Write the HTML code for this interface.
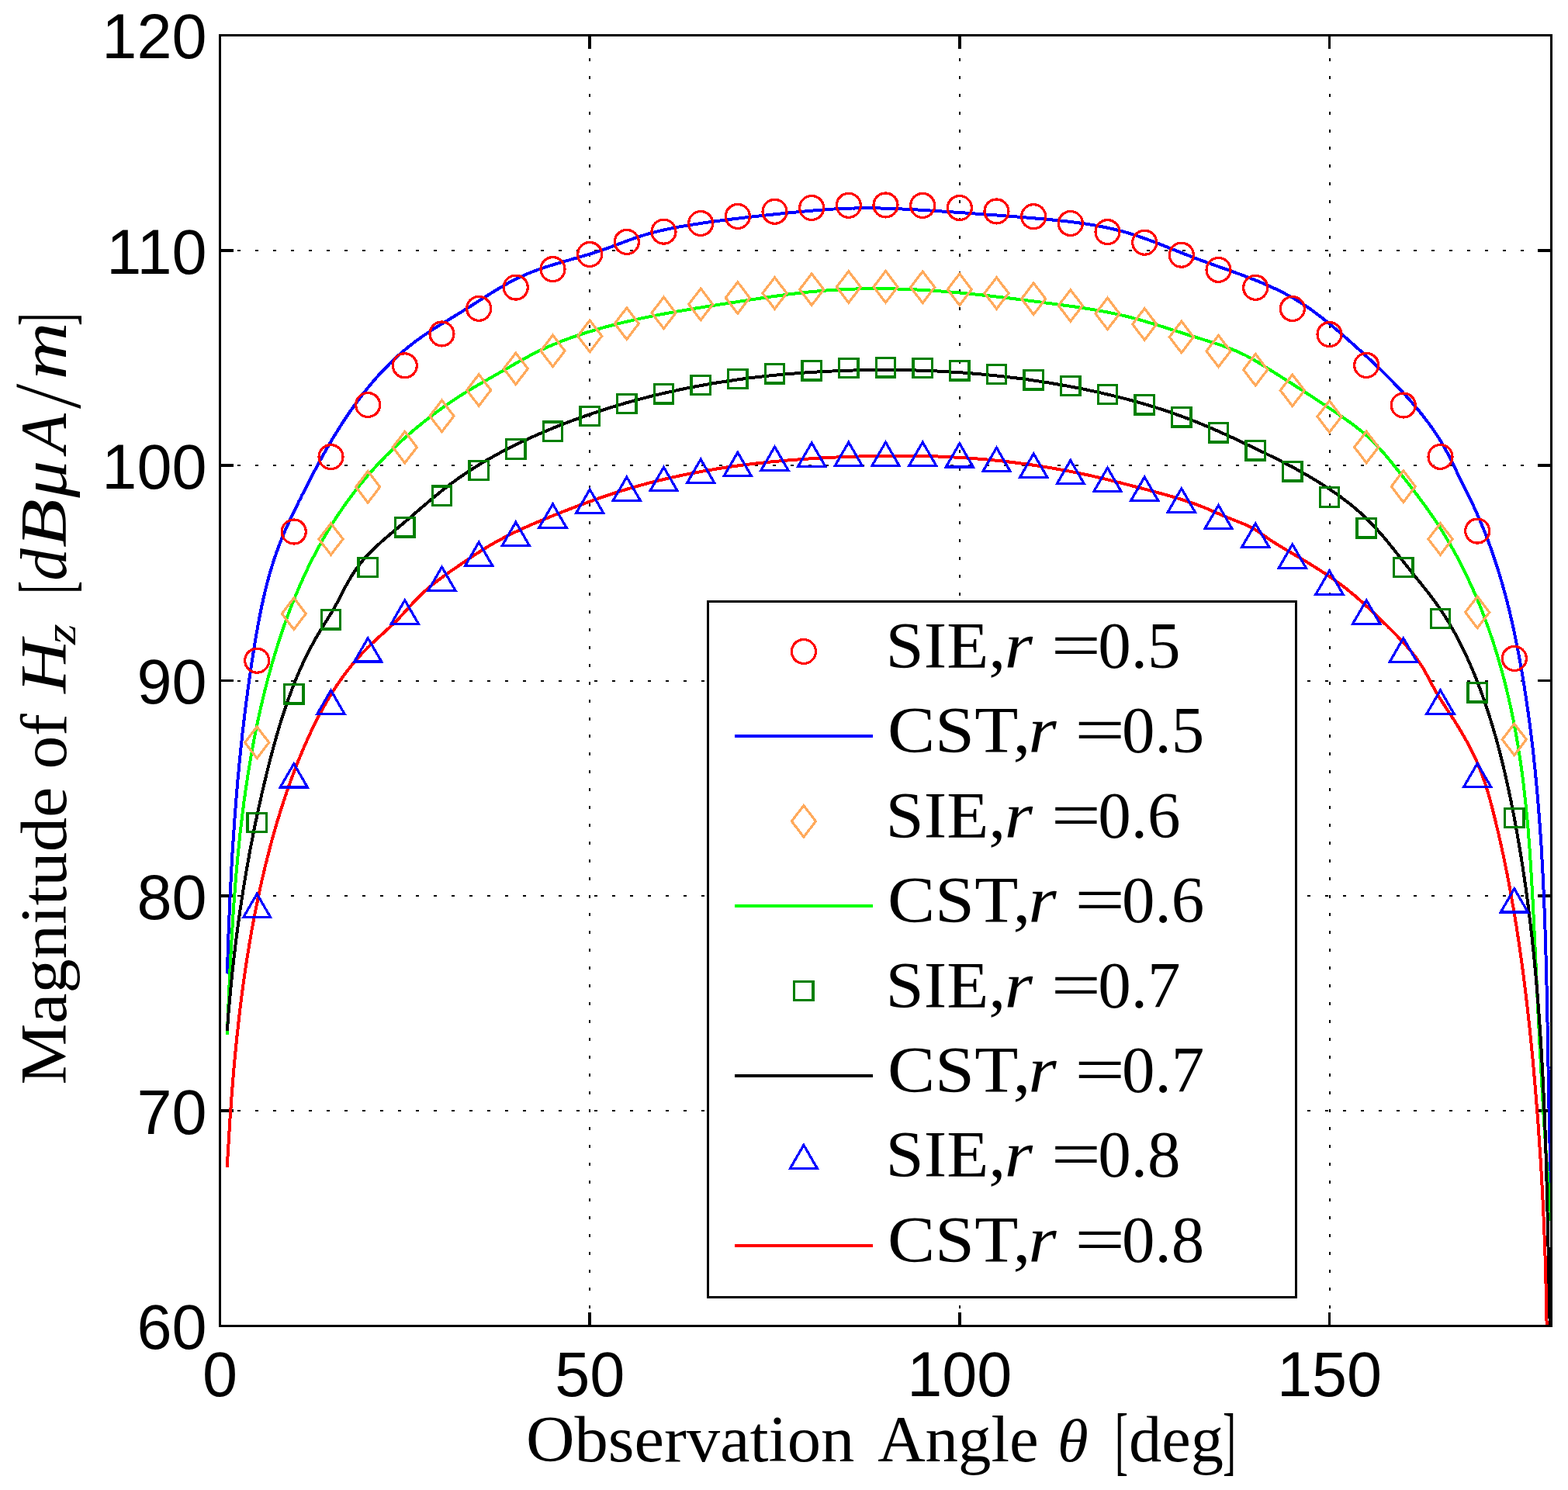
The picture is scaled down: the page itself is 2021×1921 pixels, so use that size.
<!DOCTYPE html>
<html><head><meta charset="utf-8"><title>Magnitude of Hz vs Observation Angle</title>
<style>html,body{margin:0;padding:0;background:#fff;overflow:hidden;}svg{display:block;}.tk{font-family:"Liberation Sans",Arial,Helvetica,sans-serif;font-size:81px;fill:#000;}.tx{font-family:"Liberation Serif","Times New Roman",serif;font-size:85px;fill:#000;}.it{font-style:italic;}</style></head><body>
<svg width="2021" height="1921" viewBox="0 0 2021 1921">
<rect x="0" y="0" width="2021" height="1921" fill="#ffffff"/>
<defs><clipPath id="ax"><rect x="283.5" y="45.5" width="1716.0" height="1664.0"/></clipPath></defs>
<g stroke="#000" stroke-width="2" stroke-dasharray="4 18.97" fill="none" shape-rendering="crispEdges">
<line x1="760.2" y1="1709.5" x2="760.2" y2="45.5"/>
<line x1="1236.8" y1="1709.5" x2="1236.8" y2="45.5"/>
<line x1="1713.5" y1="1709.5" x2="1713.5" y2="45.5"/>
<line x1="283.5" y1="1432.2" x2="1999.5" y2="1432.2"/>
<line x1="283.5" y1="1154.8" x2="1999.5" y2="1154.8"/>
<line x1="283.5" y1="877.5" x2="1999.5" y2="877.5"/>
<line x1="283.5" y1="600.2" x2="1999.5" y2="600.2"/>
<line x1="283.5" y1="322.8" x2="1999.5" y2="322.8"/>
</g>
<g stroke="#000" stroke-width="3.6" fill="none" shape-rendering="crispEdges">
<line x1="283.5" y1="1709.5" x2="283.5" y2="1692.0"/>
<line x1="283.5" y1="45.5" x2="283.5" y2="63.0"/>
<line x1="760.2" y1="1709.5" x2="760.2" y2="1692.0"/>
<line x1="760.2" y1="45.5" x2="760.2" y2="63.0"/>
<line x1="1236.8" y1="1709.5" x2="1236.8" y2="1692.0"/>
<line x1="1236.8" y1="45.5" x2="1236.8" y2="63.0"/>
<line x1="1713.5" y1="1709.5" x2="1713.5" y2="1692.0"/>
<line x1="1713.5" y1="45.5" x2="1713.5" y2="63.0"/>
<line x1="283.5" y1="1709.5" x2="301.0" y2="1709.5"/>
<line x1="1999.5" y1="1709.5" x2="1982.0" y2="1709.5"/>
<line x1="283.5" y1="1432.2" x2="301.0" y2="1432.2"/>
<line x1="1999.5" y1="1432.2" x2="1982.0" y2="1432.2"/>
<line x1="283.5" y1="1154.8" x2="301.0" y2="1154.8"/>
<line x1="1999.5" y1="1154.8" x2="1982.0" y2="1154.8"/>
<line x1="283.5" y1="877.5" x2="301.0" y2="877.5"/>
<line x1="1999.5" y1="877.5" x2="1982.0" y2="877.5"/>
<line x1="283.5" y1="600.2" x2="301.0" y2="600.2"/>
<line x1="1999.5" y1="600.2" x2="1982.0" y2="600.2"/>
<line x1="283.5" y1="322.8" x2="301.0" y2="322.8"/>
<line x1="1999.5" y1="322.8" x2="1982.0" y2="322.8"/>
<line x1="283.5" y1="45.5" x2="301.0" y2="45.5"/>
<line x1="1999.5" y1="45.5" x2="1982.0" y2="45.5"/>
</g>
<g clip-path="url(#ax)" shape-rendering="crispEdges">
<g fill="none" stroke-width="4.0" stroke-linejoin="round" stroke-linecap="butt">
<polyline stroke="#0000ff" points="292.8,1255.5 292.9,1252.5 293.0,1249.5 293.1,1246.5 293.2,1243.5 293.3,1240.5 293.4,1237.5 293.5,1234.5 293.6,1231.5 293.7,1228.5 293.8,1225.5 293.9,1222.5 294.0,1219.5 294.1,1216.5 294.2,1213.5 294.3,1210.5 294.4,1207.5 294.5,1204.5 294.6,1201.5 294.7,1198.5 294.9,1195.5 295.0,1192.5 295.1,1189.5 295.2,1186.5 295.3,1183.5 295.5,1180.5 295.6,1177.5 295.7,1174.5 295.8,1171.5 296.0,1168.5 296.1,1165.5 296.2,1162.6 296.4,1159.6 296.5,1156.6 296.7,1153.6 296.8,1150.6 297.0,1147.6 297.1,1144.6 297.2,1141.6 297.4,1138.6 297.6,1135.6 297.7,1132.6 297.9,1129.6 298.0,1126.6 298.2,1123.6 298.3,1120.6 298.5,1117.6 298.7,1114.6 298.8,1111.7 299.0,1108.7 299.2,1105.7 299.4,1102.7 299.5,1099.7 299.7,1096.7 299.9,1093.7 300.1,1090.7 300.3,1087.7 300.5,1084.7 300.7,1081.7 300.9,1078.8 301.1,1075.8 301.3,1072.8 301.5,1069.8 301.7,1066.8 301.9,1063.8 302.1,1060.8 302.3,1057.8 302.5,1054.8 302.7,1051.9 303.0,1048.9 303.2,1045.9 303.4,1042.9 303.7,1039.9 303.9,1036.9 304.1,1033.9 304.4,1030.9 304.6,1028.0 304.8,1025.0 305.1,1022.0 305.3,1019.0 305.6,1016.0 305.9,1013.0 306.1,1010.0 306.4,1007.1 306.6,1004.1 306.9,1001.1 307.2,998.1 307.5,995.1 307.7,992.1 308.0,989.2 308.3,986.2 308.6,983.2 308.9,980.2 309.2,977.2 309.5,974.3 309.8,971.3 310.1,968.3 310.4,965.3 310.7,962.3 311.0,959.4 311.3,956.4 311.7,953.4 312.0,950.4 312.3,947.4 312.6,944.5 313.0,941.5 313.3,938.5 313.7,935.5 314.0,932.5 314.4,929.6 314.7,926.6 315.1,923.6 315.4,920.6 315.8,917.7 316.2,914.7 316.5,911.7 316.9,908.7 317.3,905.8 317.7,902.8 318.1,899.8 318.5,896.8 318.9,893.9 319.3,890.9 319.7,887.9 320.1,884.9 320.5,882.0 320.9,879.0 321.3,876.0 321.7,873.1 322.2,870.1 322.6,867.1 323.0,864.1 323.5,861.2 323.9,858.2 324.4,855.2 324.8,852.3 325.3,849.3 325.8,846.3 326.2,843.4 326.7,840.4 327.2,837.4 327.7,834.5 328.1,831.5 328.6,828.5 329.1,825.6 329.6,822.6 330.1,819.6 330.6,816.7 331.2,813.7 331.7,810.7 332.2,807.8 332.8,804.8 333.3,801.9 333.9,798.9 334.4,796.0 335.0,793.0 335.6,790.1 336.2,787.1 336.8,784.2 337.4,781.2 338.1,778.3 338.7,775.4 339.3,772.5 340.0,769.5 340.7,766.6 341.4,763.7 342.1,760.8 342.8,757.9 343.5,755.0 344.3,752.1 345.0,749.2 345.8,746.3 346.6,743.4 347.4,740.5 348.2,737.7 349.1,734.8 349.9,731.9 350.8,729.1 351.7,726.2 352.6,723.4 353.5,720.6 354.5,717.7 355.5,714.9 356.4,712.1 357.5,709.3 358.5,706.5 359.5,703.7 360.6,700.9 361.7,698.1 362.8,695.3 363.9,692.6 365.1,689.8 366.3,687.1 367.4,684.3 368.6,681.6 369.9,678.9 371.1,676.1 372.3,673.4 373.6,670.7 374.9,668.0 376.1,665.3 377.4,662.6 378.7,659.9 380.0,657.2 381.3,654.5 382.7,651.8 384.0,649.1 385.3,646.4 386.7,643.8 388.0,641.1 389.3,638.4 390.7,635.8 392.0,633.1 393.4,630.4 394.7,627.8 396.1,625.1 397.5,622.5 398.8,619.8 400.2,617.2 401.6,614.5 402.9,611.9 404.3,609.2 405.7,606.6 407.1,604.0 408.5,601.3 409.9,598.7 411.4,596.1 412.8,593.4 414.2,590.8 415.7,588.2 417.1,585.6 418.6,583.0 420.1,580.4 421.6,577.8 423.1,575.2 424.6,572.6 426.1,570.0 427.6,567.4 429.2,564.8 430.7,562.3 432.3,559.7 433.9,557.1 435.5,554.6 437.1,552.0 438.7,549.5 440.3,547.0 441.9,544.4 443.6,541.9 445.2,539.4 446.9,536.9 448.6,534.4 450.3,531.9 452.0,529.4 453.7,527.0 455.5,524.5 457.2,522.1 459.0,519.6 460.8,517.2 462.6,514.8 464.4,512.4 466.2,510.0 468.0,507.7 469.9,505.3 471.8,503.0 473.6,500.6 475.5,498.3 477.4,496.0 479.4,493.7 481.3,491.4 483.3,489.2 485.2,486.9 487.2,484.7 489.2,482.5 491.3,480.3 493.3,478.1 495.4,476.0 497.4,473.8 499.5,471.7 501.6,469.6 503.7,467.5 505.9,465.4 508.0,463.4 510.2,461.3 512.4,459.3 514.6,457.3 516.8,455.4 519.1,453.4 521.3,451.5 523.6,449.6 525.9,447.7 528.2,445.8 530.6,444.0 532.9,442.2 535.3,440.4 537.7,438.6 540.1,436.9 542.5,435.1 545.0,433.4 547.4,431.7 549.9,430.1 552.4,428.4 554.9,426.8 557.4,425.1 559.9,423.5 562.4,421.9 565.0,420.3 567.5,418.7 570.1,417.2 572.6,415.6 575.2,414.0 577.8,412.5 580.3,410.9 582.9,409.3 585.5,407.8 588.0,406.2 590.6,404.7 593.2,403.1 595.7,401.5 598.3,399.9 600.9,398.3 603.4,396.7 606.0,395.1 608.5,393.5 611.0,391.9 613.6,390.3 616.1,388.7 618.6,387.0 621.2,385.4 623.7,383.8 626.2,382.2 628.8,380.6 631.3,379.0 633.9,377.4 636.4,375.9 639.0,374.3 641.5,372.8 644.1,371.2 646.7,369.7 649.3,368.3 651.9,366.8 654.5,365.3 657.1,363.9 659.7,362.5 662.4,361.2 665.0,359.8 667.7,358.5 670.4,357.2 673.1,356.0 675.8,354.8 678.5,353.6 681.3,352.4 684.0,351.3 686.8,350.2 689.6,349.2 692.4,348.1 695.2,347.1 698.0,346.1 700.9,345.2 703.7,344.2 706.6,343.3 709.4,342.4 712.3,341.5 715.2,340.6 718.0,339.8 720.9,338.9 723.8,338.1 726.7,337.2 729.6,336.4 732.5,335.6 735.4,334.7 738.3,333.9 741.2,333.1 744.1,332.3 747.0,331.4 749.9,330.6 752.8,329.8 755.7,328.9 758.6,328.0 761.4,327.2 764.3,326.3 767.2,325.4 770.0,324.5 772.9,323.5 775.7,322.6 778.5,321.6 781.3,320.6 784.1,319.6 786.9,318.5 789.7,317.5 792.5,316.5 795.3,315.4 798.1,314.4 800.9,313.3 803.7,312.3 806.4,311.2 809.2,310.2 812.0,309.2 814.8,308.2 817.6,307.2 820.4,306.2 823.2,305.3 826.1,304.4 828.9,303.5 831.7,302.6 834.6,301.8 837.5,301.0 840.3,300.2 843.2,299.5 846.1,298.7 849.0,298.0 851.9,297.3 854.8,296.7 857.7,296.0 860.6,295.4 863.6,294.8 866.5,294.2 869.4,293.6 872.4,293.1 875.3,292.5 878.3,292.0 881.2,291.5 884.2,291.0 887.2,290.5 890.1,290.0 893.1,289.5 896.1,289.1 899.0,288.6 902.0,288.2 905.0,287.7 907.9,287.3 910.9,286.8 913.9,286.4 916.9,286.0 919.8,285.6 922.8,285.2 925.8,284.8 928.8,284.4 931.7,284.0 934.7,283.6 937.7,283.2 940.7,282.9 943.6,282.5 946.6,282.1 949.6,281.8 952.6,281.4 955.5,281.0 958.5,280.7 961.5,280.3 964.5,280.0 967.4,279.7 970.4,279.3 973.4,279.0 976.4,278.7 979.4,278.3 982.3,278.0 985.3,277.7 988.3,277.4 991.3,277.1 994.2,276.8 997.2,276.4 1000.2,276.1 1003.2,275.8 1006.1,275.5 1009.1,275.2 1012.1,274.9 1015.1,274.6 1018.1,274.3 1021.0,274.0 1024.0,273.7 1027.0,273.4 1030.0,273.2 1032.9,272.9 1035.9,272.6 1038.9,272.3 1041.9,272.0 1044.8,271.8 1047.8,271.5 1050.8,271.3 1053.8,271.0 1056.7,270.8 1059.7,270.6 1062.7,270.3 1065.7,270.1 1068.7,269.9 1071.6,269.7 1074.6,269.5 1077.6,269.4 1080.6,269.2 1083.6,269.1 1086.6,268.9 1089.6,268.8 1092.5,268.7 1095.5,268.6 1098.5,268.5 1101.5,268.5 1104.5,268.4 1107.5,268.4 1110.5,268.3 1113.5,268.3 1116.5,268.3 1119.5,268.3 1122.5,268.3 1125.5,268.4 1128.5,268.4 1131.5,268.4 1134.5,268.5 1137.5,268.6 1140.5,268.7 1143.5,268.7 1146.5,268.8 1149.5,268.9 1152.5,269.0 1155.5,269.2 1158.5,269.3 1161.5,269.4 1164.5,269.6 1167.5,269.7 1170.5,269.9 1173.5,270.0 1176.5,270.2 1179.5,270.3 1182.5,270.5 1185.5,270.7 1188.5,270.9 1191.5,271.0 1194.5,271.2 1197.5,271.4 1200.5,271.6 1203.5,271.8 1206.4,272.0 1209.4,272.2 1212.4,272.4 1215.4,272.6 1218.4,272.8 1221.4,273.0 1224.4,273.2 1227.3,273.4 1230.3,273.6 1233.3,273.8 1236.3,274.0 1239.3,274.2 1242.2,274.4 1245.2,274.6 1248.2,274.9 1251.2,275.1 1254.1,275.3 1257.1,275.5 1260.1,275.7 1263.0,275.9 1266.0,276.1 1269.0,276.3 1272.0,276.6 1274.9,276.8 1277.9,277.0 1280.9,277.2 1283.9,277.4 1286.8,277.7 1289.8,277.9 1292.8,278.1 1295.8,278.4 1298.7,278.6 1301.7,278.8 1304.7,279.1 1307.7,279.3 1310.6,279.5 1313.6,279.8 1316.6,280.0 1319.6,280.3 1322.6,280.5 1325.6,280.8 1328.6,281.0 1331.6,281.3 1334.5,281.5 1337.5,281.8 1340.5,282.0 1343.5,282.3 1346.5,282.6 1349.5,282.8 1352.5,283.1 1355.5,283.4 1358.5,283.7 1361.6,284.0 1364.6,284.3 1367.6,284.6 1370.6,284.9 1373.6,285.3 1376.6,285.6 1379.5,286.0 1382.5,286.3 1385.5,286.7 1388.5,287.1 1391.5,287.5 1394.5,287.9 1397.5,288.3 1400.4,288.8 1403.4,289.3 1406.4,289.7 1409.3,290.2 1412.3,290.7 1415.3,291.3 1418.2,291.8 1421.1,292.4 1424.1,293.0 1427.0,293.6 1429.9,294.2 1432.8,294.9 1435.8,295.6 1438.7,296.3 1441.5,297.0 1444.4,297.7 1447.3,298.5 1450.2,299.3 1453.0,300.1 1455.9,301.0 1458.7,301.8 1461.6,302.7 1464.4,303.7 1467.2,304.6 1470.0,305.6 1472.8,306.5 1475.6,307.5 1478.4,308.6 1481.2,309.6 1484.0,310.6 1486.8,311.7 1489.6,312.7 1492.4,313.8 1495.2,314.9 1497.9,316.0 1500.7,317.1 1503.5,318.2 1506.3,319.3 1509.1,320.4 1511.8,321.5 1514.6,322.6 1517.4,323.8 1520.2,324.9 1523.0,326.0 1525.8,327.1 1528.6,328.2 1531.4,329.3 1534.2,330.4 1537.0,331.5 1539.8,332.5 1542.6,333.6 1545.5,334.7 1548.3,335.7 1551.1,336.7 1554.0,337.8 1556.8,338.8 1559.7,339.8 1562.5,340.8 1565.4,341.9 1568.2,342.9 1571.1,343.9 1573.9,344.9 1576.8,345.9 1579.6,346.9 1582.5,348.0 1585.3,349.0 1588.2,350.0 1591.0,351.0 1593.9,352.1 1596.7,353.1 1599.6,354.1 1602.4,355.2 1605.2,356.3 1608.0,357.3 1610.8,358.4 1613.6,359.5 1616.4,360.6 1619.2,361.7 1622.0,362.8 1624.8,364.0 1627.6,365.1 1630.3,366.3 1633.1,367.5 1635.8,368.7 1638.5,369.9 1641.2,371.2 1643.9,372.4 1646.6,373.7 1649.3,375.0 1652.0,376.4 1654.6,377.7 1657.2,379.1 1659.9,380.5 1662.5,381.9 1665.0,383.3 1667.6,384.8 1670.2,386.3 1672.7,387.9 1675.2,389.4 1677.7,391.0 1680.2,392.6 1682.7,394.3 1685.1,395.9 1687.6,397.6 1690.0,399.3 1692.4,401.1 1694.8,402.8 1697.2,404.6 1699.6,406.4 1701.9,408.2 1704.3,410.0 1706.6,411.9 1709.0,413.7 1711.3,415.6 1713.6,417.5 1715.9,419.4 1718.2,421.3 1720.5,423.3 1722.8,425.2 1725.1,427.1 1727.3,429.1 1729.6,431.1 1731.8,433.0 1734.1,435.0 1736.4,437.0 1738.6,439.0 1740.9,441.0 1743.1,443.0 1745.3,445.0 1747.6,447.0 1749.8,449.0 1752.1,451.0 1754.3,453.0 1756.5,455.1 1758.7,457.1 1760.9,459.1 1763.1,461.2 1765.3,463.2 1767.5,465.2 1769.7,467.3 1771.9,469.4 1774.1,471.4 1776.2,473.5 1778.4,475.6 1780.6,477.7 1782.7,479.8 1784.9,481.9 1787.0,484.0 1789.1,486.1 1791.2,488.2 1793.3,490.4 1795.4,492.5 1797.5,494.7 1799.6,496.8 1801.6,499.0 1803.7,501.2 1805.8,503.3 1807.8,505.5 1809.8,507.7 1811.8,509.9 1813.8,512.2 1815.8,514.4 1817.8,516.6 1819.8,518.9 1821.7,521.1 1823.7,523.4 1825.6,525.7 1827.5,528.0 1829.4,530.3 1831.3,532.6 1833.1,534.9 1835.0,537.3 1836.8,539.6 1838.6,542.0 1840.4,544.4 1842.2,546.7 1843.9,549.2 1845.7,551.6 1847.4,554.0 1849.0,556.5 1850.7,558.9 1852.3,561.4 1853.9,563.9 1855.5,566.5 1857.1,569.0 1858.6,571.6 1860.1,574.1 1861.6,576.7 1863.0,579.3 1864.5,582.0 1865.9,584.6 1867.3,587.3 1868.6,589.9 1870.0,592.6 1871.3,595.3 1872.7,598.0 1874.0,600.6 1875.3,603.3 1876.6,606.0 1877.9,608.8 1879.2,611.5 1880.5,614.2 1881.8,616.9 1883.2,619.6 1884.5,622.2 1885.8,624.9 1887.1,627.6 1888.5,630.3 1889.8,633.0 1891.1,635.7 1892.5,638.4 1893.8,641.1 1895.1,643.7 1896.4,646.4 1897.7,649.1 1899.0,651.9 1900.2,654.6 1901.5,657.3 1902.7,660.0 1903.9,662.8 1905.1,665.5 1906.3,668.2 1907.5,671.0 1908.7,673.7 1909.8,676.5 1911.0,679.3 1912.1,682.1 1913.2,684.8 1914.3,687.6 1915.4,690.4 1916.5,693.2 1917.6,696.0 1918.6,698.8 1919.6,701.6 1920.7,704.4 1921.7,707.3 1922.7,710.1 1923.7,712.9 1924.6,715.7 1925.6,718.6 1926.6,721.4 1927.5,724.3 1928.4,727.1 1929.4,730.0 1930.3,732.8 1931.2,735.7 1932.0,738.5 1932.9,741.4 1933.8,744.3 1934.6,747.1 1935.5,750.0 1936.3,752.9 1937.1,755.8 1937.9,758.7 1938.7,761.6 1939.5,764.4 1940.3,767.3 1941.1,770.2 1941.8,773.1 1942.6,776.0 1943.3,778.9 1944.0,781.9 1944.8,784.8 1945.5,787.7 1946.2,790.6 1946.9,793.5 1947.5,796.4 1948.2,799.4 1948.9,802.3 1949.5,805.2 1950.2,808.1 1950.8,811.1 1951.5,814.0 1952.1,816.9 1952.7,819.9 1953.3,822.8 1953.9,825.7 1954.5,828.7 1955.1,831.6 1955.7,834.6 1956.3,837.5 1956.8,840.5 1957.4,843.4 1958.0,846.4 1958.5,849.3 1959.0,852.3 1959.6,855.2 1960.1,858.2 1960.6,861.1 1961.1,864.1 1961.7,867.1 1962.2,870.0 1962.7,873.0 1963.1,875.9 1963.6,878.9 1964.1,881.9 1964.6,884.8 1965.1,887.8 1965.5,890.7 1966.0,893.7 1966.4,896.7 1966.9,899.6 1967.3,902.6 1967.8,905.6 1968.2,908.5 1968.6,911.5 1969.1,914.5 1969.5,917.4 1969.9,920.4 1970.3,923.4 1970.7,926.3 1971.1,929.3 1971.5,932.3 1971.9,935.2 1972.3,938.2 1972.7,941.2 1973.0,944.2 1973.4,947.1 1973.8,950.1 1974.2,953.1 1974.5,956.1 1974.9,959.0 1975.2,962.0 1975.6,965.0 1975.9,968.0 1976.2,970.9 1976.6,973.9 1976.9,976.9 1977.2,979.9 1977.5,982.8 1977.8,985.8 1978.2,988.8 1978.5,991.8 1978.8,994.8 1979.1,997.7 1979.4,1000.7 1979.6,1003.7 1979.9,1006.7 1980.2,1009.7 1980.5,1012.6 1980.8,1015.6 1981.0,1018.6 1981.3,1021.6 1981.6,1024.6 1981.8,1027.6 1982.1,1030.6 1982.3,1033.5 1982.6,1036.5 1982.8,1039.5 1983.1,1042.5 1983.3,1045.5 1983.5,1048.5 1983.8,1051.5 1984.0,1054.4 1984.2,1057.4 1984.4,1060.4 1984.7,1063.4 1984.9,1066.4 1985.1,1069.4 1985.3,1072.4 1985.5,1075.4 1985.7,1078.4 1985.9,1081.3 1986.1,1084.3 1986.3,1087.3 1986.5,1090.3 1986.7,1093.3 1986.8,1096.3 1987.0,1099.3 1987.2,1102.3 1987.4,1105.3 1987.5,1108.3 1987.7,1111.3 1987.9,1114.3 1988.0,1117.2 1988.2,1120.2 1988.4,1123.2 1988.5,1126.2 1988.7,1129.2 1988.8,1132.2 1989.0,1135.2 1989.1,1138.2 1989.2,1141.2 1989.4,1144.2 1989.5,1147.2 1989.7,1150.2 1989.8,1153.2 1989.9,1156.2 1990.0,1159.2 1990.2,1162.2 1990.3,1165.2 1990.4,1168.2 1990.5,1171.2 1990.7,1174.2 1990.8,1177.2 1990.9,1180.2 1991.0,1183.2 1991.1,1186.2 1991.2,1189.2 1991.3,1192.2 1991.4,1195.2 1991.5,1198.2 1991.6,1201.2 1991.7,1204.2 1991.8,1207.2 1991.9,1210.2 1992.0,1213.2 1992.1,1216.2 1992.2,1219.2 1992.3,1222.2 1992.4,1225.2 1992.4,1228.2 1992.5,1231.2 1992.6,1234.2 1992.7,1237.2 1992.8,1240.2 1992.8,1243.2 1992.9,1246.2 1993.0,1249.2 1993.1,1252.2 1993.1,1255.2 1993.2,1258.2 1993.3,1261.2 1993.4,1264.2 1993.4,1267.2 1993.5,1270.2 1993.6,1273.2 1993.6,1276.2 1993.7,1279.2 1993.8,1282.2 1993.8,1285.2 1993.9,1288.2 1993.9,1291.2 1994.0,1294.2 1994.1,1297.2 1994.1,1300.2 1994.2,1303.2 1994.2,1306.2 1994.3,1309.2 1994.3,1312.2 1994.4,1315.2 1994.5,1318.2 1994.5,1321.2 1994.6,1324.2 1994.6,1327.2 1994.7,1330.2 1994.7,1333.2 1994.8,1336.2 1994.8,1339.2 1994.9,1342.2 1994.9,1345.2 1995.0,1348.2 1995.0,1351.2 1995.1,1354.2 1995.1,1357.2 1995.2,1360.2 1995.3,1363.2 1995.3,1366.2 1995.4,1369.2 1995.4,1372.2 1995.5,1375.2 1995.5,1378.2 1995.6,1381.2 1995.6,1384.2 1995.7,1387.2 1995.7,1390.2 1995.8,1393.2 1995.8,1396.2 1995.9,1399.2 1995.9,1402.2 1996.0,1405.2 1996.1,1408.2 1996.1,1411.2 1996.2,1414.2 1996.2,1417.2 1996.3,1420.2 1996.3,1423.2 1996.4,1426.2 1996.5,1429.2 1996.5,1432.2 1996.6,1435.2 1996.6,1438.2 1996.7,1441.2 1996.8,1444.2 1996.8,1447.2 1996.9,1450.2 1997.0,1453.2 1997.0,1456.2 1997.1,1459.2 1997.2,1462.2 1997.2,1465.2 1997.3,1468.2 1997.4,1471.2 1997.5,1474.2 1997.5,1477.2 1997.6,1480.2 1997.7,1483.1 1997.8,1486.1 1997.9,1489.1 1997.9,1492.1 1998.0,1495.1 1998.1,1498.1 1998.2,1501.1 1998.3,1504.1 1998.4,1507.1 1998.5,1510.1 1998.6,1513.1 1998.7,1516.1 1998.8,1519.1 1998.9,1522.1 1999.0,1525.0 1999.1,1528.0 1999.2,1531.0 1999.3,1534.0 1999.4,1537.0 1999.5,1540.0"/>
<polyline stroke="#00ff00" points="292.8,1333.6 292.9,1330.6 293.1,1327.6 293.2,1324.6 293.3,1321.6 293.4,1318.6 293.6,1315.6 293.7,1312.6 293.8,1309.6 294.0,1306.6 294.1,1303.6 294.2,1300.6 294.3,1297.6 294.5,1294.6 294.6,1291.6 294.7,1288.6 294.9,1285.6 295.0,1282.6 295.1,1279.6 295.3,1276.6 295.4,1273.6 295.5,1270.7 295.7,1267.7 295.8,1264.7 296.0,1261.7 296.1,1258.7 296.2,1255.7 296.4,1252.7 296.5,1249.7 296.7,1246.7 296.8,1243.7 297.0,1240.7 297.1,1237.7 297.3,1234.7 297.4,1231.7 297.6,1228.7 297.8,1225.7 297.9,1222.7 298.1,1219.7 298.3,1216.7 298.4,1213.7 298.6,1210.7 298.8,1207.7 298.9,1204.7 299.1,1201.8 299.3,1198.8 299.5,1195.8 299.7,1192.8 299.8,1189.8 300.0,1186.8 300.2,1183.8 300.4,1180.8 300.6,1177.8 300.8,1174.8 301.0,1171.8 301.2,1168.8 301.4,1165.9 301.6,1162.9 301.9,1159.9 302.1,1156.9 302.3,1153.9 302.5,1150.9 302.7,1147.9 303.0,1144.9 303.2,1142.0 303.4,1139.0 303.7,1136.0 303.9,1133.0 304.2,1130.0 304.4,1127.0 304.7,1124.0 304.9,1121.1 305.2,1118.1 305.5,1115.1 305.7,1112.1 306.0,1109.1 306.3,1106.2 306.6,1103.2 306.9,1100.2 307.2,1097.2 307.5,1094.2 307.8,1091.3 308.1,1088.3 308.4,1085.3 308.7,1082.3 309.0,1079.4 309.3,1076.4 309.6,1073.4 310.0,1070.4 310.3,1067.5 310.7,1064.5 311.0,1061.5 311.4,1058.6 311.7,1055.6 312.1,1052.6 312.4,1049.6 312.8,1046.7 313.2,1043.7 313.6,1040.7 314.0,1037.8 314.3,1034.8 314.7,1031.8 315.1,1028.9 315.6,1025.9 316.0,1023.0 316.4,1020.0 316.8,1017.0 317.3,1014.1 317.7,1011.1 318.1,1008.2 318.6,1005.2 319.0,1002.2 319.5,999.3 320.0,996.3 320.4,993.4 320.9,990.4 321.4,987.5 321.9,984.5 322.4,981.6 322.9,978.6 323.4,975.7 323.9,972.7 324.5,969.8 325.0,966.8 325.5,963.9 326.1,960.9 326.6,958.0 327.2,955.1 327.7,952.1 328.3,949.2 328.9,946.2 329.5,943.3 330.1,940.4 330.7,937.4 331.3,934.5 331.9,931.6 332.5,928.6 333.1,925.7 333.8,922.8 334.4,919.8 335.1,916.9 335.7,914.0 336.4,911.0 337.1,908.1 337.8,905.2 338.5,902.3 339.2,899.3 339.9,896.4 340.6,893.5 341.3,890.6 342.0,887.7 342.8,884.8 343.5,881.8 344.3,878.9 345.0,876.0 345.8,873.1 346.6,870.2 347.4,867.3 348.2,864.4 349.0,861.5 349.8,858.6 350.6,855.7 351.5,852.8 352.3,849.9 353.2,847.0 354.0,844.2 354.9,841.3 355.8,838.4 356.7,835.5 357.6,832.6 358.5,829.8 359.4,826.9 360.3,824.1 361.3,821.2 362.2,818.3 363.2,815.5 364.1,812.6 365.1,809.8 366.1,807.0 367.1,804.1 368.1,801.3 369.1,798.5 370.2,795.6 371.2,792.8 372.3,790.0 373.3,787.2 374.4,784.4 375.5,781.6 376.6,778.8 377.7,776.0 378.8,773.2 379.9,770.5 381.1,767.7 382.2,764.9 383.4,762.2 384.6,759.4 385.7,756.7 386.9,753.9 388.1,751.2 389.4,748.5 390.6,745.7 391.8,743.0 393.1,740.3 394.4,737.6 395.6,734.9 396.9,732.2 398.2,729.5 399.6,726.8 400.9,724.1 402.2,721.5 403.6,718.8 405.0,716.2 406.3,713.5 407.7,710.9 409.1,708.2 410.6,705.6 412.0,703.0 413.4,700.4 414.9,697.8 416.4,695.2 417.8,692.6 419.3,690.0 420.9,687.5 422.4,684.9 423.9,682.4 425.5,679.8 427.0,677.3 428.6,674.8 430.2,672.2 431.8,669.7 433.4,667.2 435.1,664.7 436.7,662.2 438.4,659.8 440.1,657.3 441.7,654.9 443.5,652.4 445.2,650.0 446.9,647.5 448.7,645.1 450.4,642.7 452.2,640.3 454.0,637.9 455.8,635.6 457.6,633.2 459.5,630.8 461.3,628.5 463.2,626.1 465.1,623.8 467.0,621.5 468.9,619.2 470.8,616.9 472.8,614.6 474.7,612.3 476.7,610.1 478.7,607.8 480.7,605.6 482.7,603.4 484.7,601.1 486.8,598.9 488.8,596.7 490.9,594.6 493.0,592.4 495.0,590.2 497.1,588.1 499.3,585.9 501.4,583.8 503.5,581.7 505.7,579.6 507.9,577.5 510.0,575.4 512.2,573.4 514.4,571.3 516.6,569.3 518.9,567.2 521.1,565.2 523.3,563.2 525.6,561.2 527.9,559.2 530.1,557.3 532.4,555.3 534.7,553.4 537.0,551.4 539.4,549.5 541.7,547.6 544.0,545.7 546.4,543.8 548.7,542.0 551.1,540.1 553.5,538.3 555.9,536.4 558.2,534.6 560.6,532.8 563.1,531.0 565.5,529.3 567.9,527.5 570.3,525.8 572.8,524.0 575.2,522.3 577.7,520.6 580.2,518.9 582.6,517.2 585.1,515.6 587.6,513.9 590.1,512.3 592.6,510.7 595.1,509.1 597.7,507.5 600.2,505.9 602.7,504.3 605.3,502.8 607.8,501.3 610.3,499.7 612.9,498.2 615.5,496.7 618.0,495.2 620.6,493.8 623.2,492.3 625.7,490.8 628.3,489.4 630.9,487.9 633.5,486.4 636.1,485.0 638.6,483.5 641.2,482.0 643.8,480.6 646.4,479.1 649.0,477.6 651.5,476.1 654.1,474.7 656.7,473.2 659.3,471.7 661.8,470.2 664.4,468.7 667.0,467.2 669.6,465.7 672.2,464.3 674.8,462.8 677.4,461.4 680.1,460.0 682.7,458.6 685.3,457.2 688.0,455.8 690.7,454.5 693.3,453.1 696.0,451.8 698.8,450.6 701.5,449.3 704.2,448.1 706.9,446.9 709.7,445.7 712.5,444.5 715.2,443.4 718.0,442.2 720.8,441.1 723.6,440.0 726.4,438.9 729.2,437.9 732.0,436.9 734.9,435.8 737.7,434.8 740.5,433.8 743.4,432.9 746.2,431.9 749.1,431.0 751.9,430.0 754.8,429.1 757.7,428.2 760.5,427.4 763.4,426.5 766.3,425.6 769.1,424.8 772.0,424.0 774.9,423.1 777.8,422.3 780.7,421.5 783.6,420.8 786.5,420.0 789.4,419.2 792.3,418.5 795.2,417.7 798.1,417.0 801.0,416.3 803.9,415.6 806.8,414.9 809.7,414.2 812.6,413.6 815.5,412.9 818.4,412.2 821.4,411.6 824.3,410.9 827.2,410.3 830.1,409.7 833.1,409.1 836.0,408.5 838.9,407.9 841.8,407.3 844.8,406.7 847.7,406.2 850.6,405.6 853.6,405.0 856.5,404.5 859.5,403.9 862.4,403.4 865.3,402.9 868.3,402.3 871.2,401.8 874.2,401.3 877.1,400.8 880.1,400.3 883.0,399.8 886.0,399.3 888.9,398.8 891.9,398.3 894.8,397.8 897.8,397.3 900.8,396.8 903.7,396.4 906.7,395.9 909.6,395.4 912.6,394.9 915.6,394.5 918.5,394.0 921.5,393.6 924.4,393.1 927.4,392.6 930.4,392.2 933.3,391.7 936.3,391.3 939.2,390.8 942.2,390.4 945.2,389.9 948.1,389.5 951.1,389.0 954.1,388.5 957.0,388.1 960.0,387.6 963.0,387.2 965.9,386.7 968.9,386.3 971.8,385.8 974.8,385.4 977.8,384.9 980.7,384.5 983.7,384.0 986.7,383.6 989.6,383.2 992.6,382.7 995.6,382.3 998.5,381.9 1001.5,381.5 1004.5,381.1 1007.4,380.7 1010.4,380.3 1013.4,379.9 1016.4,379.5 1019.3,379.1 1022.3,378.8 1025.3,378.4 1028.2,378.0 1031.2,377.7 1034.2,377.4 1037.2,377.0 1040.1,376.7 1043.1,376.4 1046.1,376.1 1049.1,375.8 1052.0,375.6 1055.0,375.3 1058.0,375.0 1061.0,374.8 1064.0,374.6 1066.9,374.3 1069.9,374.1 1072.9,373.9 1075.9,373.7 1078.9,373.6 1081.9,373.4 1084.8,373.2 1087.8,373.1 1090.8,373.0 1093.8,372.8 1096.8,372.7 1099.8,372.6 1102.8,372.5 1105.7,372.4 1108.7,372.4 1111.7,372.3 1114.7,372.2 1117.7,372.2 1120.7,372.2 1123.7,372.1 1126.7,372.1 1129.6,372.1 1132.6,372.1 1135.6,372.1 1138.6,372.1 1141.6,372.2 1144.6,372.2 1147.6,372.3 1150.6,372.3 1153.6,372.4 1156.6,372.5 1159.5,372.6 1162.5,372.7 1165.5,372.8 1168.5,372.9 1171.5,373.0 1174.5,373.1 1177.5,373.3 1180.5,373.4 1183.4,373.6 1186.4,373.7 1189.4,373.9 1192.4,374.1 1195.4,374.3 1198.4,374.5 1201.4,374.7 1204.4,374.9 1207.4,375.1 1210.3,375.3 1213.3,375.5 1216.3,375.8 1219.3,376.0 1222.3,376.2 1225.3,376.5 1228.3,376.7 1231.2,377.0 1234.2,377.3 1237.2,377.5 1240.2,377.8 1243.2,378.1 1246.2,378.4 1249.2,378.7 1252.1,379.0 1255.1,379.3 1258.1,379.6 1261.1,379.9 1264.1,380.2 1267.1,380.6 1270.1,380.9 1273.0,381.2 1276.0,381.5 1279.0,381.9 1282.0,382.2 1285.0,382.6 1287.9,382.9 1290.9,383.3 1293.9,383.6 1296.9,384.0 1299.9,384.3 1302.8,384.7 1305.8,385.1 1308.8,385.4 1311.8,385.8 1314.8,386.2 1317.7,386.6 1320.7,386.9 1323.7,387.3 1326.7,387.7 1329.6,388.1 1332.6,388.5 1335.6,388.9 1338.6,389.2 1341.5,389.6 1344.5,390.0 1347.5,390.4 1350.5,390.8 1353.4,391.2 1356.4,391.6 1359.4,392.0 1362.4,392.4 1365.3,392.8 1368.3,393.2 1371.3,393.6 1374.2,394.0 1377.2,394.4 1380.2,394.8 1383.1,395.2 1386.1,395.6 1389.0,396.1 1392.0,396.5 1395.0,397.0 1397.9,397.4 1400.9,397.9 1403.8,398.3 1406.8,398.8 1409.7,399.3 1412.7,399.8 1415.6,400.3 1418.5,400.9 1421.5,401.4 1424.4,401.9 1427.3,402.5 1430.3,403.1 1433.2,403.7 1436.1,404.3 1439.0,404.9 1442.0,405.6 1444.9,406.2 1447.8,406.9 1450.7,407.6 1453.6,408.3 1456.5,409.0 1459.4,409.8 1462.3,410.6 1465.1,411.3 1468.0,412.1 1470.9,412.9 1473.8,413.8 1476.7,414.6 1479.5,415.5 1482.4,416.3 1485.3,417.2 1488.2,418.0 1491.0,418.9 1493.9,419.8 1496.8,420.7 1499.6,421.6 1502.5,422.5 1505.4,423.4 1508.2,424.3 1511.1,425.3 1513.9,426.2 1516.8,427.1 1519.7,428.0 1522.5,428.9 1525.4,429.8 1528.3,430.7 1531.1,431.7 1534.0,432.6 1536.9,433.5 1539.8,434.3 1542.6,435.2 1545.5,436.1 1548.4,437.0 1551.3,437.9 1554.1,438.8 1557.0,439.7 1559.9,440.6 1562.7,441.5 1565.6,442.4 1568.4,443.3 1571.3,444.3 1574.1,445.2 1576.9,446.2 1579.7,447.2 1582.5,448.3 1585.3,449.3 1588.1,450.4 1590.8,451.5 1593.6,452.7 1596.3,453.9 1599.0,455.1 1601.7,456.4 1604.4,457.7 1607.0,459.0 1609.7,460.4 1612.3,461.8 1614.9,463.3 1617.5,464.8 1620.1,466.3 1622.6,467.9 1625.2,469.5 1627.7,471.1 1630.3,472.6 1632.8,474.2 1635.3,475.8 1637.9,477.4 1640.4,479.0 1642.9,480.6 1645.5,482.2 1648.0,483.8 1650.5,485.4 1653.1,487.0 1655.6,488.6 1658.1,490.2 1660.7,491.8 1663.2,493.4 1665.7,495.0 1668.2,496.7 1670.7,498.3 1673.3,499.9 1675.8,501.5 1678.3,503.1 1680.8,504.8 1683.3,506.4 1685.8,508.0 1688.3,509.6 1690.9,511.3 1693.4,512.9 1695.9,514.6 1698.4,516.2 1700.9,517.9 1703.4,519.5 1705.9,521.2 1708.4,522.8 1710.9,524.5 1713.4,526.2 1715.9,527.9 1718.3,529.6 1720.8,531.2 1723.3,532.9 1725.8,534.6 1728.3,536.3 1730.8,538.1 1733.2,539.8 1735.7,541.5 1738.2,543.3 1740.6,545.0 1743.0,546.8 1745.4,548.6 1747.8,550.4 1750.2,552.3 1752.6,554.1 1754.9,556.0 1757.2,557.9 1759.5,559.9 1761.7,561.8 1763.9,563.8 1766.1,565.9 1768.3,567.9 1770.4,570.0 1772.5,572.1 1774.6,574.3 1776.6,576.5 1778.6,578.7 1780.6,580.9 1782.6,583.1 1784.5,585.4 1786.5,587.7 1788.4,590.0 1790.3,592.3 1792.2,594.6 1794.1,596.9 1796.0,599.2 1797.8,601.5 1799.7,603.9 1801.6,606.2 1803.4,608.5 1805.3,610.9 1807.1,613.2 1809.0,615.5 1810.8,617.9 1812.7,620.2 1814.5,622.5 1816.3,624.9 1818.2,627.3 1820.0,629.6 1821.8,632.0 1823.6,634.4 1825.4,636.7 1827.2,639.1 1829.0,641.5 1830.8,643.9 1832.6,646.3 1834.4,648.8 1836.1,651.2 1837.9,653.6 1839.6,656.1 1841.4,658.5 1843.1,661.0 1844.8,663.5 1846.5,665.9 1848.2,668.4 1849.9,670.9 1851.5,673.4 1853.2,675.9 1854.8,678.4 1856.4,681.0 1858.0,683.5 1859.6,686.0 1861.2,688.6 1862.7,691.1 1864.3,693.7 1865.8,696.3 1867.3,698.9 1868.8,701.4 1870.3,704.0 1871.8,706.6 1873.3,709.2 1874.7,711.9 1876.1,714.5 1877.6,717.1 1879.0,719.7 1880.4,722.4 1881.8,725.0 1883.1,727.7 1884.5,730.3 1885.8,733.0 1887.2,735.7 1888.5,738.4 1889.8,741.1 1891.1,743.8 1892.4,746.5 1893.6,749.2 1894.9,751.9 1896.1,754.6 1897.4,757.3 1898.6,760.0 1899.8,762.8 1901.0,765.5 1902.2,768.3 1903.3,771.0 1904.5,773.8 1905.6,776.5 1906.8,779.3 1907.9,782.1 1909.0,784.8 1910.1,787.6 1911.2,790.4 1912.3,793.2 1913.3,796.0 1914.4,798.8 1915.4,801.6 1916.4,804.4 1917.5,807.2 1918.5,810.1 1919.5,812.9 1920.4,815.7 1921.4,818.6 1922.4,821.4 1923.3,824.2 1924.3,827.1 1925.2,829.9 1926.1,832.8 1927.0,835.6 1927.9,838.5 1928.8,841.4 1929.7,844.2 1930.5,847.1 1931.4,850.0 1932.2,852.9 1933.1,855.8 1933.9,858.6 1934.7,861.5 1935.5,864.4 1936.3,867.3 1937.1,870.2 1937.8,873.1 1938.6,876.0 1939.3,878.9 1940.1,881.8 1940.8,884.8 1941.5,887.7 1942.2,890.6 1942.9,893.5 1943.6,896.4 1944.3,899.4 1945.0,902.3 1945.6,905.2 1946.3,908.2 1946.9,911.1 1947.6,914.0 1948.2,917.0 1948.8,919.9 1949.4,922.9 1950.0,925.8 1950.6,928.7 1951.2,931.7 1951.7,934.6 1952.3,937.6 1952.9,940.5 1953.4,943.5 1953.9,946.4 1954.5,949.4 1955.0,952.4 1955.5,955.3 1956.0,958.3 1956.5,961.2 1957.0,964.2 1957.4,967.1 1957.9,970.1 1958.4,973.1 1958.8,976.0 1959.3,979.0 1959.7,982.0 1960.1,984.9 1960.6,987.9 1961.0,990.9 1961.4,993.8 1961.8,996.8 1962.2,999.8 1962.6,1002.7 1962.9,1005.7 1963.3,1008.7 1963.7,1011.6 1964.0,1014.6 1964.4,1017.6 1964.7,1020.6 1965.1,1023.5 1965.4,1026.5 1965.7,1029.5 1966.0,1032.5 1966.4,1035.5 1966.7,1038.4 1967.0,1041.4 1967.3,1044.4 1967.6,1047.4 1967.8,1050.3 1968.1,1053.3 1968.4,1056.3 1968.7,1059.3 1968.9,1062.3 1969.2,1065.3 1969.5,1068.2 1969.7,1071.2 1970.0,1074.2 1970.2,1077.2 1970.4,1080.2 1970.7,1083.2 1970.9,1086.2 1971.1,1089.1 1971.3,1092.1 1971.6,1095.1 1971.8,1098.1 1972.0,1101.1 1972.2,1104.1 1972.4,1107.1 1972.6,1110.1 1972.8,1113.0 1973.0,1116.0 1973.2,1119.0 1973.4,1122.0 1973.5,1125.0 1973.7,1128.0 1973.9,1131.0 1974.1,1134.0 1974.3,1137.0 1974.4,1140.0 1974.6,1143.0 1974.8,1146.0 1974.9,1149.0 1975.1,1151.9 1975.2,1154.9 1975.4,1157.9 1975.6,1160.9 1975.7,1163.9 1975.9,1166.9 1976.0,1169.9 1976.2,1172.9 1976.3,1175.9 1976.5,1178.9 1976.6,1181.9 1976.8,1184.9 1976.9,1187.9 1977.0,1190.9 1977.2,1193.9 1977.3,1196.9 1977.5,1199.9 1977.6,1202.9 1977.8,1205.9 1977.9,1208.9 1978.0,1211.8 1978.2,1214.8 1978.3,1217.8 1978.5,1220.8 1978.6,1223.8 1978.8,1226.8 1978.9,1229.8 1979.0,1232.8 1979.2,1235.8 1979.3,1238.8 1979.5,1241.8 1979.6,1244.8 1979.7,1247.8 1979.9,1250.8 1980.0,1253.8 1980.2,1256.8 1980.3,1259.8 1980.4,1262.8 1980.6,1265.8 1980.7,1268.8 1980.9,1271.8 1981.0,1274.8 1981.2,1277.8 1981.3,1280.8 1981.4,1283.8 1981.6,1286.8 1981.7,1289.7 1981.9,1292.7 1982.0,1295.7 1982.2,1298.7 1982.3,1301.7 1982.4,1304.7 1982.6,1307.7 1982.7,1310.7 1982.9,1313.7 1983.0,1316.7 1983.2,1319.7 1983.3,1322.7 1983.5,1325.7 1983.6,1328.7 1983.8,1331.7 1983.9,1334.7 1984.1,1337.7 1984.2,1340.7 1984.4,1343.7 1984.5,1346.7 1984.7,1349.7 1984.8,1352.7 1985.0,1355.7 1985.1,1358.7 1985.3,1361.6 1985.5,1364.6 1985.6,1367.6 1985.8,1370.6 1985.9,1373.6 1986.1,1376.6 1986.3,1379.6 1986.4,1382.6 1986.6,1385.6 1986.7,1388.6 1986.9,1391.6 1987.1,1394.6 1987.2,1397.6 1987.4,1400.6 1987.6,1403.6 1987.8,1406.6 1987.9,1409.6 1988.1,1412.6 1988.3,1415.5 1988.4,1418.5 1988.6,1421.5 1988.8,1424.5 1989.0,1427.5 1989.1,1430.5 1989.3,1433.5 1989.5,1436.5 1989.7,1439.5 1989.9,1442.5 1990.1,1445.5 1990.2,1448.5 1990.4,1451.5 1990.6,1454.4 1990.8,1457.4 1991.0,1460.4 1991.2,1463.4 1991.4,1466.4 1991.6,1469.4 1991.8,1472.4 1992.0,1475.4 1992.2,1478.4 1992.4,1481.4 1992.6,1484.4 1992.8,1487.4 1993.0,1490.3 1993.2,1493.3 1993.4,1496.3 1993.6,1499.3 1993.8,1502.3 1994.1,1505.3 1994.3,1508.3 1994.5,1511.3 1994.7,1514.3 1994.9,1517.2 1995.2,1520.2 1995.4,1523.2 1995.6,1526.2 1995.8,1529.2 1996.1,1532.2 1996.3,1535.2 1996.5,1538.2 1996.8,1541.2 1997.0,1544.1 1997.2,1547.1 1997.5,1550.1 1997.7,1553.1 1998.0,1556.1 1998.2,1559.1 1998.5,1562.1 1998.7,1565.0 1999.0,1568.0 1999.2,1571.0 1999.5,1574.0"/>
<polyline stroke="#000" points="292.8,1329.0 293.0,1326.0 293.2,1323.0 293.5,1320.0 293.7,1317.0 293.9,1314.0 294.2,1311.1 294.4,1308.1 294.6,1305.1 294.9,1302.1 295.1,1299.1 295.4,1296.1 295.7,1293.1 295.9,1290.1 296.2,1287.1 296.5,1284.2 296.7,1281.2 297.0,1278.2 297.3,1275.2 297.6,1272.2 297.9,1269.2 298.2,1266.2 298.5,1263.3 298.8,1260.3 299.1,1257.3 299.4,1254.3 299.7,1251.3 300.0,1248.3 300.4,1245.4 300.7,1242.4 301.0,1239.4 301.4,1236.4 301.7,1233.4 302.0,1230.5 302.4,1227.5 302.8,1224.5 303.1,1221.5 303.5,1218.5 303.8,1215.6 304.2,1212.6 304.6,1209.6 305.0,1206.6 305.4,1203.7 305.7,1200.7 306.1,1197.7 306.5,1194.8 306.9,1191.8 307.3,1188.8 307.8,1185.8 308.2,1182.9 308.6,1179.9 309.0,1176.9 309.4,1174.0 309.9,1171.0 310.3,1168.0 310.8,1165.1 311.2,1162.1 311.7,1159.1 312.1,1156.2 312.6,1153.2 313.0,1150.2 313.5,1147.3 314.0,1144.3 314.5,1141.4 314.9,1138.4 315.4,1135.4 315.9,1132.5 316.4,1129.5 316.9,1126.6 317.4,1123.6 317.9,1120.7 318.5,1117.7 319.0,1114.8 319.5,1111.8 320.0,1108.8 320.6,1105.9 321.1,1102.9 321.6,1100.0 322.2,1097.1 322.7,1094.1 323.3,1091.2 323.9,1088.2 324.4,1085.3 325.0,1082.3 325.6,1079.4 326.2,1076.4 326.7,1073.5 327.3,1070.6 327.9,1067.6 328.5,1064.7 329.1,1061.7 329.7,1058.8 330.4,1055.9 331.0,1052.9 331.6,1050.0 332.2,1047.1 332.9,1044.1 333.5,1041.2 334.2,1038.3 334.8,1035.3 335.5,1032.4 336.1,1029.5 336.8,1026.6 337.4,1023.6 338.1,1020.7 338.8,1017.8 339.5,1014.9 340.2,1011.9 340.9,1009.0 341.6,1006.1 342.3,1003.2 343.0,1000.3 343.7,997.4 344.4,994.4 345.1,991.5 345.9,988.6 346.6,985.7 347.3,982.8 348.1,979.9 348.8,977.0 349.6,974.1 350.4,971.2 351.1,968.3 351.9,965.4 352.7,962.5 353.5,959.6 354.3,956.7 355.1,953.8 355.9,950.9 356.7,948.0 357.6,945.1 358.4,942.3 359.2,939.4 360.1,936.5 361.0,933.7 361.9,930.8 362.7,927.9 363.6,925.1 364.6,922.2 365.5,919.4 366.4,916.5 367.4,913.7 368.3,910.9 369.3,908.0 370.3,905.2 371.3,902.4 372.3,899.6 373.3,896.8 374.3,894.0 375.4,891.2 376.4,888.4 377.5,885.6 378.6,882.8 379.7,880.0 380.8,877.3 381.9,874.5 383.1,871.7 384.3,869.0 385.4,866.2 386.6,863.5 387.9,860.8 389.1,858.1 390.3,855.4 391.6,852.7 392.9,850.0 394.2,847.3 395.5,844.6 396.8,841.9 398.2,839.2 399.6,836.6 401.0,833.9 402.4,831.3 403.8,828.7 405.2,826.0 406.7,823.4 408.2,820.8 409.7,818.2 411.3,815.7 412.8,813.1 414.4,810.5 416.0,807.9 417.6,805.4 419.2,802.8 420.8,800.3 422.3,797.7 423.9,795.2 425.5,792.6 427.1,790.0 428.6,787.4 430.2,784.8 431.7,782.2 433.1,779.6 434.6,776.9 436.0,774.3 437.4,771.6 438.8,769.0 440.1,766.3 441.5,763.6 442.9,760.9 444.3,758.3 445.7,755.6 447.1,753.0 448.6,750.4 450.1,747.8 451.6,745.2 453.1,742.7 454.7,740.2 456.3,737.7 458.0,735.2 459.7,732.8 461.5,730.4 463.3,728.0 465.1,725.7 467.0,723.4 468.9,721.1 470.9,718.9 472.9,716.7 474.9,714.6 477.0,712.4 479.1,710.3 481.2,708.2 483.4,706.1 485.6,704.1 487.8,702.0 490.0,700.0 492.2,698.0 494.5,696.0 496.7,694.1 499.0,692.1 501.3,690.2 503.6,688.2 505.9,686.3 508.2,684.3 510.6,682.4 512.9,680.5 515.2,678.5 517.5,676.6 519.8,674.7 522.1,672.7 524.4,670.8 526.7,668.8 529.0,666.9 531.3,664.9 533.6,663.0 535.8,661.0 538.1,659.0 540.4,657.1 542.7,655.1 544.9,653.2 547.2,651.2 549.5,649.3 551.8,647.3 554.1,645.4 556.4,643.5 558.6,641.6 560.9,639.7 563.3,637.8 565.6,635.9 567.9,634.0 570.2,632.1 572.6,630.3 574.9,628.5 577.3,626.6 579.7,624.8 582.1,623.0 584.5,621.3 586.9,619.5 589.3,617.8 591.7,616.1 594.2,614.4 596.6,612.7 599.1,611.0 601.6,609.3 604.1,607.7 606.6,606.1 609.1,604.4 611.6,602.8 614.2,601.3 616.7,599.7 619.2,598.1 621.8,596.6 624.4,595.1 627.0,593.5 629.6,592.0 632.2,590.6 634.8,589.1 637.4,587.6 640.0,586.2 642.6,584.8 645.3,583.3 647.9,581.9 650.6,580.5 653.3,579.2 655.9,577.8 658.6,576.4 661.3,575.1 664.0,573.8 666.7,572.5 669.4,571.1 672.1,569.9 674.8,568.6 677.5,567.3 680.3,566.0 683.0,564.8 685.7,563.6 688.5,562.3 691.2,561.1 694.0,559.9 696.7,558.7 699.5,557.5 702.3,556.3 705.0,555.2 707.8,554.0 710.6,552.9 713.4,551.7 716.1,550.6 718.9,549.5 721.7,548.4 724.5,547.3 727.3,546.2 730.1,545.1 732.9,544.1 735.7,543.0 738.5,542.0 741.3,540.9 744.1,539.9 747.0,538.9 749.8,537.9 752.6,536.9 755.4,535.9 758.3,534.9 761.1,533.9 763.9,532.9 766.8,532.0 769.6,531.0 772.4,530.1 775.3,529.2 778.1,528.2 781.0,527.3 783.9,526.4 786.7,525.5 789.6,524.7 792.4,523.8 795.3,522.9 798.2,522.1 801.0,521.2 803.9,520.4 806.8,519.5 809.7,518.7 812.5,517.9 815.4,517.1 818.3,516.3 821.2,515.5 824.1,514.8 827.0,514.0 829.9,513.2 832.8,512.5 835.7,511.8 838.6,511.0 841.5,510.3 844.4,509.6 847.3,508.9 850.2,508.2 853.1,507.5 856.0,506.8 858.9,506.2 861.9,505.5 864.8,504.8 867.7,504.2 870.6,503.6 873.6,502.9 876.5,502.3 879.4,501.7 882.4,501.1 885.3,500.5 888.2,499.9 891.2,499.4 894.1,498.8 897.0,498.2 900.0,497.7 902.9,497.1 905.9,496.6 908.8,496.1 911.8,495.5 914.7,495.0 917.7,494.5 920.6,494.0 923.6,493.5 926.6,493.1 929.5,492.6 932.5,492.1 935.4,491.7 938.4,491.2 941.4,490.8 944.3,490.4 947.3,489.9 950.3,489.5 953.2,489.1 956.2,488.7 959.2,488.3 962.2,487.9 965.1,487.5 968.1,487.2 971.1,486.8 974.1,486.4 977.0,486.1 980.0,485.7 983.0,485.4 986.0,485.1 989.0,484.8 992.0,484.4 994.9,484.1 997.9,483.8 1000.9,483.5 1003.9,483.2 1006.9,483.0 1009.9,482.7 1012.9,482.4 1015.9,482.2 1018.8,481.9 1021.8,481.7 1024.8,481.4 1027.8,481.2 1030.8,481.0 1033.8,480.7 1036.8,480.5 1039.8,480.3 1042.8,480.1 1045.8,479.9 1048.8,479.7 1051.8,479.6 1054.8,479.4 1057.8,479.2 1060.8,479.0 1063.8,478.9 1066.8,478.7 1069.8,478.6 1072.8,478.5 1075.8,478.3 1078.8,478.2 1081.8,478.1 1084.8,478.0 1087.8,477.8 1090.8,477.7 1093.8,477.6 1096.8,477.6 1099.8,477.5 1102.8,477.4 1105.7,477.3 1108.7,477.3 1111.7,477.2 1114.7,477.1 1117.7,477.1 1120.7,477.0 1123.7,477.0 1126.7,477.0 1129.7,477.0 1132.7,476.9 1135.7,476.9 1138.7,476.9 1141.7,476.9 1144.7,476.9 1147.7,476.9 1150.7,476.9 1153.7,477.0 1156.7,477.0 1159.7,477.0 1162.7,477.1 1165.7,477.1 1168.7,477.2 1171.7,477.3 1174.7,477.3 1177.7,477.4 1180.7,477.5 1183.7,477.6 1186.7,477.7 1189.6,477.8 1192.6,477.9 1195.6,478.0 1198.6,478.1 1201.6,478.2 1204.6,478.4 1207.6,478.5 1210.6,478.7 1213.6,478.8 1216.6,479.0 1219.6,479.1 1222.5,479.3 1225.5,479.5 1228.5,479.7 1231.5,479.9 1234.5,480.1 1237.5,480.3 1240.5,480.5 1243.4,480.7 1246.4,480.9 1249.4,481.2 1252.4,481.4 1255.4,481.7 1258.4,481.9 1261.3,482.2 1264.3,482.4 1267.3,482.7 1270.3,483.0 1273.3,483.3 1276.2,483.6 1279.2,483.9 1282.2,484.2 1285.2,484.5 1288.2,484.8 1291.1,485.2 1294.1,485.5 1297.1,485.9 1300.0,486.2 1303.0,486.6 1306.0,486.9 1309.0,487.3 1311.9,487.7 1314.9,488.1 1317.9,488.5 1320.8,488.9 1323.8,489.3 1326.8,489.7 1329.7,490.1 1332.7,490.6 1335.7,491.0 1338.6,491.4 1341.6,491.9 1344.5,492.4 1347.5,492.8 1350.5,493.3 1353.4,493.8 1356.4,494.3 1359.3,494.8 1362.3,495.3 1365.2,495.8 1368.2,496.3 1371.1,496.8 1374.1,497.4 1377.0,497.9 1380.0,498.5 1382.9,499.0 1385.9,499.6 1388.8,500.2 1391.8,500.8 1394.7,501.3 1397.6,501.9 1400.6,502.5 1403.5,503.2 1406.5,503.8 1409.4,504.4 1412.3,505.0 1415.3,505.7 1418.2,506.3 1421.1,507.0 1424.1,507.7 1427.0,508.4 1429.9,509.0 1432.8,509.7 1435.7,510.4 1438.7,511.2 1441.6,511.9 1444.5,512.6 1447.4,513.4 1450.3,514.1 1453.2,514.9 1456.1,515.6 1459.0,516.4 1461.9,517.2 1464.8,518.0 1467.7,518.8 1470.6,519.7 1473.4,520.5 1476.3,521.3 1479.2,522.2 1482.1,523.0 1484.9,523.9 1487.8,524.8 1490.6,525.7 1493.5,526.6 1496.4,527.5 1499.2,528.5 1502.0,529.4 1504.9,530.3 1507.7,531.3 1510.5,532.3 1513.4,533.3 1516.2,534.3 1519.0,535.3 1521.8,536.3 1524.6,537.3 1527.4,538.4 1530.2,539.4 1533.0,540.5 1535.8,541.6 1538.6,542.7 1541.4,543.8 1544.1,544.9 1546.9,546.0 1549.7,547.2 1552.4,548.3 1555.2,549.5 1557.9,550.6 1560.7,551.8 1563.4,553.0 1566.2,554.2 1568.9,555.4 1571.6,556.6 1574.4,557.8 1577.1,559.1 1579.8,560.3 1582.5,561.5 1585.3,562.8 1588.0,564.0 1590.7,565.3 1593.4,566.6 1596.1,567.8 1598.8,569.1 1601.5,570.4 1604.2,571.7 1606.9,573.0 1609.6,574.2 1612.4,575.5 1615.1,576.8 1617.8,578.1 1620.5,579.4 1623.2,580.7 1625.9,582.0 1628.6,583.3 1631.3,584.7 1634.0,586.0 1636.6,587.3 1639.3,588.6 1642.0,590.0 1644.7,591.3 1647.4,592.7 1650.1,594.0 1652.7,595.4 1655.4,596.8 1658.1,598.2 1660.7,599.5 1663.4,601.0 1666.0,602.4 1668.7,603.8 1671.3,605.2 1673.9,606.7 1676.5,608.1 1679.2,609.6 1681.8,611.1 1684.4,612.5 1687.0,614.0 1689.6,615.6 1692.1,617.1 1694.7,618.6 1697.3,620.2 1699.8,621.8 1702.4,623.4 1704.9,625.0 1707.4,626.6 1710.0,628.2 1712.5,629.9 1715.0,631.5 1717.4,633.2 1719.9,634.9 1722.4,636.6 1724.8,638.4 1727.3,640.1 1729.7,641.9 1732.1,643.7 1734.5,645.5 1736.9,647.4 1739.2,649.2 1741.6,651.1 1743.9,653.0 1746.2,654.9 1748.5,656.9 1750.7,658.8 1753.0,660.8 1755.2,662.8 1757.4,664.8 1759.6,666.9 1761.7,669.0 1763.9,671.1 1766.0,673.2 1768.0,675.3 1770.1,677.5 1772.1,679.7 1774.2,681.9 1776.2,684.1 1778.1,686.3 1780.1,688.6 1782.1,690.8 1784.0,693.1 1785.9,695.4 1787.8,697.7 1789.7,700.0 1791.6,702.4 1793.5,704.7 1795.4,707.0 1797.3,709.4 1799.1,711.7 1801.0,714.1 1802.8,716.5 1804.7,718.8 1806.6,721.2 1808.4,723.6 1810.3,725.9 1812.1,728.3 1814.0,730.7 1815.9,733.0 1817.7,735.4 1819.6,737.7 1821.5,740.1 1823.4,742.4 1825.3,744.8 1827.2,747.1 1829.1,749.4 1831.0,751.8 1832.9,754.1 1834.7,756.5 1836.6,758.8 1838.5,761.2 1840.3,763.5 1842.2,765.9 1844.0,768.3 1845.8,770.7 1847.6,773.1 1849.4,775.5 1851.1,777.9 1852.8,780.4 1854.6,782.8 1856.2,785.3 1857.9,787.8 1859.6,790.3 1861.2,792.8 1862.8,795.3 1864.4,797.8 1865.9,800.4 1867.5,802.9 1869.0,805.5 1870.5,808.1 1872.0,810.7 1873.5,813.3 1875.0,815.9 1876.4,818.5 1877.8,821.1 1879.2,823.8 1880.6,826.4 1882.0,829.1 1883.3,831.8 1884.7,834.4 1886.0,837.1 1887.3,839.8 1888.6,842.5 1889.8,845.2 1891.1,848.0 1892.3,850.7 1893.5,853.4 1894.8,856.2 1895.9,858.9 1897.1,861.7 1898.3,864.4 1899.4,867.2 1900.6,870.0 1901.7,872.8 1902.8,875.6 1903.9,878.4 1905.0,881.2 1906.1,884.0 1907.1,886.8 1908.2,889.6 1909.2,892.4 1910.2,895.2 1911.2,898.0 1912.2,900.9 1913.2,903.7 1914.2,906.5 1915.2,909.4 1916.1,912.2 1917.1,915.1 1918.0,917.9 1918.9,920.8 1919.8,923.6 1920.7,926.5 1921.6,929.3 1922.5,932.2 1923.4,935.1 1924.2,937.9 1925.1,940.8 1925.9,943.7 1926.7,946.6 1927.6,949.5 1928.4,952.3 1929.2,955.2 1930.0,958.1 1930.7,961.0 1931.5,963.9 1932.3,966.8 1933.0,969.7 1933.8,972.6 1934.5,975.5 1935.3,978.4 1936.0,981.4 1936.7,984.3 1937.4,987.2 1938.1,990.1 1938.8,993.0 1939.5,995.9 1940.2,998.9 1940.8,1001.8 1941.5,1004.7 1942.1,1007.6 1942.8,1010.6 1943.4,1013.5 1944.1,1016.4 1944.7,1019.4 1945.3,1022.3 1945.9,1025.3 1946.6,1028.2 1947.2,1031.1 1947.8,1034.1 1948.3,1037.0 1948.9,1040.0 1949.5,1042.9 1950.1,1045.8 1950.7,1048.8 1951.2,1051.7 1951.8,1054.7 1952.3,1057.6 1952.9,1060.6 1953.4,1063.5 1954.0,1066.5 1954.5,1069.4 1955.1,1072.4 1955.6,1075.3 1956.1,1078.3 1956.6,1081.2 1957.1,1084.2 1957.6,1087.1 1958.1,1090.1 1958.6,1093.0 1959.1,1096.0 1959.6,1098.9 1960.1,1101.9 1960.6,1104.9 1961.0,1107.8 1961.5,1110.8 1962.0,1113.7 1962.4,1116.7 1962.9,1119.7 1963.3,1122.6 1963.8,1125.6 1964.2,1128.5 1964.7,1131.5 1965.1,1134.5 1965.5,1137.4 1966.0,1140.4 1966.4,1143.4 1966.8,1146.3 1967.2,1149.3 1967.6,1152.3 1968.0,1155.2 1968.4,1158.2 1968.8,1161.2 1969.2,1164.1 1969.6,1167.1 1970.0,1170.1 1970.3,1173.1 1970.7,1176.0 1971.1,1179.0 1971.4,1182.0 1971.8,1184.9 1972.2,1187.9 1972.5,1190.9 1972.9,1193.9 1973.2,1196.8 1973.5,1199.8 1973.9,1202.8 1974.2,1205.8 1974.6,1208.8 1974.9,1211.7 1975.2,1214.7 1975.5,1217.7 1975.8,1220.7 1976.1,1223.6 1976.5,1226.6 1976.8,1229.6 1977.1,1232.6 1977.4,1235.6 1977.7,1238.6 1977.9,1241.5 1978.2,1244.5 1978.5,1247.5 1978.8,1250.5 1979.1,1253.5 1979.4,1256.5 1979.6,1259.4 1979.9,1262.4 1980.2,1265.4 1980.4,1268.4 1980.7,1271.4 1980.9,1274.4 1981.2,1277.4 1981.4,1280.3 1981.7,1283.3 1981.9,1286.3 1982.2,1289.3 1982.4,1292.3 1982.6,1295.3 1982.8,1298.3 1983.1,1301.3 1983.3,1304.3 1983.5,1307.3 1983.7,1310.2 1984.0,1313.2 1984.2,1316.2 1984.4,1319.2 1984.6,1322.2 1984.8,1325.2 1985.0,1328.2 1985.2,1331.2 1985.4,1334.2 1985.6,1337.2 1985.8,1340.2 1986.0,1343.2 1986.1,1346.2 1986.3,1349.2 1986.5,1352.2 1986.7,1355.1 1986.9,1358.1 1987.0,1361.1 1987.2,1364.1 1987.4,1367.1 1987.5,1370.1 1987.7,1373.1 1987.9,1376.1 1988.0,1379.1 1988.2,1382.1 1988.3,1385.1 1988.5,1388.1 1988.6,1391.1 1988.8,1394.1 1988.9,1397.1 1989.1,1400.1 1989.2,1403.1 1989.4,1406.1 1989.5,1409.1 1989.6,1412.1 1989.8,1415.1 1989.9,1418.1 1990.0,1421.1 1990.2,1424.1 1990.3,1427.1 1990.4,1430.1 1990.5,1433.1 1990.7,1436.1 1990.8,1439.1 1990.9,1442.1 1991.0,1445.1 1991.1,1448.1 1991.2,1451.1 1991.3,1454.1 1991.5,1457.1 1991.6,1460.1 1991.7,1463.1 1991.8,1466.1 1991.9,1469.1 1992.0,1472.1 1992.1,1475.1 1992.2,1478.1 1992.3,1481.1 1992.4,1484.1 1992.5,1487.1 1992.6,1490.1 1992.7,1493.1 1992.8,1496.2 1992.8,1499.2 1992.9,1502.2 1993.0,1505.2 1993.1,1508.2 1993.2,1511.2 1993.3,1514.2 1993.4,1517.2 1993.4,1520.2 1993.5,1523.2 1993.6,1526.2 1993.7,1529.2 1993.8,1532.2 1993.8,1535.2 1993.9,1538.2 1994.0,1541.2 1994.1,1544.2 1994.1,1547.2 1994.2,1550.2 1994.3,1553.2 1994.4,1556.2 1994.4,1559.2 1994.5,1562.2 1994.6,1565.2 1994.6,1568.2 1994.7,1571.2 1994.8,1574.2 1994.8,1577.2 1994.9,1580.2 1995.0,1583.2 1995.0,1586.2 1995.1,1589.2 1995.2,1592.2 1995.2,1595.2 1995.3,1598.2 1995.4,1601.2 1995.4,1604.2 1995.5,1607.2 1995.6,1610.2 1995.6,1613.2 1995.7,1616.2 1995.8,1619.2 1995.8,1622.2 1995.9,1625.2 1995.9,1628.2 1996.0,1631.2 1996.1,1634.2 1996.1,1637.2 1996.2,1640.2 1996.3,1643.2 1996.3,1646.2 1996.4,1649.2 1996.4,1652.2 1996.5,1655.2 1996.6,1658.2 1996.6,1661.2 1996.7,1664.2 1996.8,1667.2 1996.8,1670.2 1996.9,1673.2 1997.0,1676.2 1997.0,1679.2 1997.1,1682.2 1997.1,1685.2 1997.2,1688.2 1997.3,1691.2 1997.3,1694.2 1997.4,1697.2 1997.5,1700.2 1997.6,1703.2 1997.6,1706.2 1997.7,1709.2 1997.8,1712.1 1997.8,1715.1 1997.9,1718.1 1998.0,1721.1 1998.1,1724.1 1998.1,1727.1 1998.2,1730.1 1998.3,1733.1 1998.4,1736.1 1998.4,1739.1 1998.5,1742.1 1998.6,1745.1 1998.7,1748.0 1998.8,1751.0 1998.8,1754.0 1998.9,1757.0 1999.0,1760.0"/>
<polyline stroke="#ff0000" points="292.8,1505.0 293.0,1502.0 293.1,1499.0 293.3,1496.0 293.4,1493.1 293.6,1490.1 293.8,1487.1 293.9,1484.1 294.1,1481.1 294.3,1478.1 294.5,1475.1 294.6,1472.1 294.8,1469.1 295.0,1466.2 295.2,1463.2 295.4,1460.2 295.6,1457.2 295.8,1454.2 295.9,1451.2 296.1,1448.2 296.3,1445.2 296.5,1442.2 296.7,1439.2 296.9,1436.3 297.1,1433.3 297.4,1430.3 297.6,1427.3 297.8,1424.3 298.0,1421.3 298.2,1418.3 298.4,1415.3 298.7,1412.3 298.9,1409.3 299.1,1406.4 299.4,1403.4 299.6,1400.4 299.8,1397.4 300.1,1394.4 300.3,1391.4 300.6,1388.4 300.8,1385.4 301.1,1382.4 301.3,1379.4 301.6,1376.5 301.9,1373.5 302.1,1370.5 302.4,1367.5 302.7,1364.5 303.0,1361.5 303.2,1358.5 303.5,1355.6 303.8,1352.6 304.1,1349.6 304.4,1346.6 304.7,1343.6 305.0,1340.6 305.3,1337.6 305.6,1334.7 305.9,1331.7 306.3,1328.7 306.6,1325.7 306.9,1322.7 307.2,1319.7 307.6,1316.8 307.9,1313.8 308.2,1310.8 308.6,1307.8 308.9,1304.9 309.3,1301.9 309.7,1298.9 310.0,1295.9 310.4,1292.9 310.8,1290.0 311.1,1287.0 311.5,1284.0 311.9,1281.1 312.3,1278.1 312.7,1275.1 313.1,1272.1 313.5,1269.2 313.9,1266.2 314.3,1263.2 314.8,1260.3 315.2,1257.3 315.6,1254.3 316.0,1251.4 316.5,1248.4 316.9,1245.4 317.4,1242.5 317.8,1239.5 318.3,1236.6 318.7,1233.6 319.2,1230.6 319.7,1227.7 320.2,1224.7 320.7,1221.8 321.2,1218.8 321.6,1215.9 322.1,1212.9 322.7,1210.0 323.2,1207.0 323.7,1204.1 324.2,1201.1 324.7,1198.2 325.3,1195.2 325.8,1192.3 326.4,1189.3 326.9,1186.4 327.5,1183.4 328.0,1180.5 328.6,1177.6 329.2,1174.6 329.8,1171.7 330.4,1168.8 331.0,1165.8 331.6,1162.9 332.2,1160.0 332.8,1157.0 333.4,1154.1 334.0,1151.2 334.7,1148.2 335.3,1145.3 335.9,1142.4 336.6,1139.5 337.2,1136.5 337.9,1133.6 338.6,1130.7 339.3,1127.8 339.9,1124.9 340.6,1122.0 341.3,1119.1 342.0,1116.1 342.7,1113.2 343.5,1110.3 344.2,1107.4 344.9,1104.5 345.7,1101.6 346.4,1098.7 347.2,1095.8 347.9,1092.9 348.7,1090.0 349.5,1087.1 350.2,1084.2 351.0,1081.4 351.8,1078.5 352.6,1075.6 353.4,1072.7 354.3,1069.8 355.1,1066.9 355.9,1064.1 356.8,1061.2 357.6,1058.3 358.5,1055.5 359.4,1052.6 360.3,1049.7 361.1,1046.9 362.0,1044.0 362.9,1041.1 363.9,1038.3 364.8,1035.4 365.7,1032.6 366.7,1029.8 367.6,1026.9 368.6,1024.1 369.5,1021.2 370.5,1018.4 371.5,1015.6 372.5,1012.8 373.5,1009.9 374.5,1007.1 375.5,1004.3 376.6,1001.5 377.6,998.7 378.7,995.9 379.8,993.1 380.8,990.3 381.9,987.5 383.0,984.7 384.1,981.9 385.2,979.1 386.4,976.4 387.5,973.6 388.7,970.8 389.8,968.0 391.0,965.3 392.2,962.5 393.4,959.8 394.6,957.0 395.8,954.3 397.0,951.6 398.3,948.8 399.5,946.1 400.8,943.4 402.1,940.7 403.4,938.0 404.7,935.3 406.0,932.6 407.4,929.9 408.7,927.3 410.1,924.6 411.5,921.9 412.9,919.3 414.3,916.7 415.7,914.0 417.2,911.4 418.7,908.8 420.1,906.2 421.6,903.7 423.2,901.1 424.7,898.5 426.3,896.0 427.8,893.4 429.4,890.9 431.0,888.4 432.7,885.9 434.3,883.4 436.0,881.0 437.7,878.5 439.4,876.1 441.1,873.7 442.9,871.2 444.6,868.8 446.4,866.5 448.2,864.1 450.1,861.8 451.9,859.4 453.8,857.1 455.7,854.8 457.7,852.5 459.6,850.3 461.6,848.0 463.6,845.8 465.6,843.6 467.7,841.4 469.7,839.2 471.8,837.1 473.9,834.9 476.1,832.8 478.3,830.7 480.5,828.7 482.7,826.6 484.9,824.5 487.1,822.5 489.4,820.5 491.6,818.4 493.9,816.4 496.1,814.4 498.4,812.3 500.6,810.3 502.8,808.2 505.0,806.1 507.2,804.1 509.4,801.9 511.5,799.8 513.6,797.7 515.7,795.5 517.7,793.3 519.8,791.1 521.8,788.9 523.9,786.7 525.9,784.5 527.9,782.3 529.9,780.1 531.9,777.9 534.0,775.8 536.0,773.6 538.1,771.5 540.2,769.3 542.3,767.2 544.4,765.2 546.6,763.1 548.8,761.1 551.0,759.2 553.3,757.2 555.5,755.3 557.9,753.4 560.2,751.6 562.6,749.8 564.9,747.9 567.3,746.2 569.7,744.4 572.2,742.6 574.6,740.9 577.1,739.2 579.6,737.4 582.0,735.7 584.5,734.0 587.0,732.3 589.5,730.6 592.0,728.9 594.4,727.2 596.9,725.5 599.4,723.8 601.9,722.1 604.4,720.5 606.9,718.8 609.4,717.1 611.9,715.5 614.4,713.8 616.9,712.2 619.5,710.6 622.0,709.0 624.5,707.4 627.1,705.8 629.6,704.3 632.2,702.8 634.8,701.3 637.4,699.8 640.0,698.3 642.6,696.9 645.2,695.5 647.8,694.1 650.5,692.7 653.1,691.3 655.8,690.0 658.4,688.7 661.1,687.4 663.8,686.1 666.5,684.8 669.1,683.5 671.8,682.3 674.5,681.0 677.3,679.8 680.0,678.6 682.7,677.4 685.4,676.2 688.2,675.0 690.9,673.8 693.7,672.7 696.4,671.5 699.2,670.4 701.9,669.2 704.7,668.1 707.4,667.0 710.2,665.8 713.0,664.7 715.8,663.6 718.5,662.5 721.3,661.4 724.1,660.3 726.9,659.2 729.7,658.1 732.4,657.0 735.2,655.9 738.0,654.9 740.8,653.8 743.6,652.7 746.4,651.7 749.2,650.6 752.1,649.6 754.9,648.5 757.7,647.5 760.5,646.5 763.3,645.5 766.1,644.5 769.0,643.5 771.8,642.5 774.6,641.5 777.5,640.5 780.3,639.6 783.1,638.6 786.0,637.7 788.8,636.7 791.7,635.8 794.5,634.9 797.4,634.0 800.2,633.1 803.1,632.2 806.0,631.3 808.8,630.5 811.7,629.6 814.6,628.8 817.4,628.0 820.3,627.1 823.2,626.3 826.1,625.5 829.0,624.7 831.9,624.0 834.7,623.2 837.6,622.4 840.5,621.7 843.4,621.0 846.3,620.2 849.2,619.5 852.2,618.8 855.1,618.1 858.0,617.4 860.9,616.7 863.8,616.1 866.7,615.4 869.6,614.8 872.6,614.1 875.5,613.5 878.4,612.9 881.3,612.3 884.3,611.7 887.2,611.1 890.1,610.5 893.1,609.9 896.0,609.4 899.0,608.8 901.9,608.3 904.8,607.7 907.8,607.2 910.7,606.7 913.7,606.2 916.6,605.7 919.6,605.2 922.5,604.7 925.5,604.2 928.5,603.8 931.4,603.3 934.4,602.8 937.3,602.4 940.3,602.0 943.3,601.5 946.2,601.1 949.2,600.7 952.2,600.3 955.1,599.9 958.1,599.5 961.1,599.1 964.1,598.8 967.0,598.4 970.0,598.0 973.0,597.7 976.0,597.3 978.9,597.0 981.9,596.7 984.9,596.4 987.9,596.0 990.9,595.7 993.9,595.4 996.8,595.1 999.8,594.8 1002.8,594.6 1005.8,594.3 1008.8,594.0 1011.8,593.8 1014.8,593.5 1017.7,593.3 1020.7,593.0 1023.7,592.8 1026.7,592.6 1029.7,592.3 1032.7,592.1 1035.7,591.9 1038.7,591.7 1041.7,591.5 1044.7,591.3 1047.7,591.1 1050.6,590.9 1053.6,590.8 1056.6,590.6 1059.6,590.4 1062.6,590.3 1065.6,590.1 1068.6,590.0 1071.6,589.8 1074.6,589.7 1077.6,589.5 1080.6,589.4 1083.6,589.3 1086.5,589.2 1089.5,589.1 1092.5,588.9 1095.5,588.8 1098.5,588.7 1101.5,588.7 1104.5,588.6 1107.5,588.5 1110.5,588.4 1113.5,588.3 1116.4,588.3 1119.4,588.2 1122.4,588.1 1125.4,588.1 1128.4,588.0 1131.4,588.0 1134.3,587.9 1137.3,587.9 1140.3,587.8 1143.3,587.8 1146.3,587.8 1149.3,587.8 1152.2,587.7 1155.2,587.7 1158.2,587.7 1161.2,587.7 1164.1,587.7 1167.1,587.7 1170.1,587.7 1173.1,587.7 1176.1,587.8 1179.0,587.8 1182.0,587.8 1185.0,587.9 1188.0,587.9 1191.0,588.0 1193.9,588.1 1196.9,588.1 1199.9,588.2 1202.9,588.3 1205.9,588.4 1208.9,588.5 1211.8,588.6 1214.8,588.7 1217.8,588.9 1220.8,589.0 1223.8,589.2 1226.8,589.3 1229.8,589.5 1232.8,589.6 1235.8,589.8 1238.7,590.0 1241.7,590.2 1244.7,590.4 1247.7,590.6 1250.7,590.8 1253.7,591.0 1256.7,591.2 1259.7,591.5 1262.6,591.7 1265.6,592.0 1268.6,592.2 1271.6,592.5 1274.6,592.8 1277.6,593.1 1280.6,593.4 1283.6,593.7 1286.5,594.0 1289.5,594.3 1292.5,594.6 1295.5,595.0 1298.5,595.3 1301.4,595.6 1304.4,596.0 1307.4,596.4 1310.4,596.7 1313.4,597.1 1316.3,597.5 1319.3,597.9 1322.3,598.3 1325.3,598.7 1328.2,599.2 1331.2,599.6 1334.2,600.0 1337.1,600.5 1340.1,600.9 1343.1,601.4 1346.0,601.9 1349.0,602.3 1351.9,602.8 1354.9,603.3 1357.8,603.8 1360.8,604.4 1363.8,604.9 1366.7,605.4 1369.6,605.9 1372.6,606.5 1375.5,607.1 1378.5,607.6 1381.4,608.2 1384.4,608.8 1387.3,609.4 1390.2,610.0 1393.2,610.6 1396.1,611.2 1399.0,611.8 1401.9,612.4 1404.8,613.1 1407.8,613.7 1410.7,614.4 1413.6,615.1 1416.5,615.7 1419.4,616.4 1422.3,617.1 1425.2,617.8 1428.1,618.5 1431.0,619.2 1433.9,619.9 1436.8,620.6 1439.7,621.4 1442.6,622.1 1445.5,622.8 1448.4,623.6 1451.3,624.3 1454.2,625.0 1457.1,625.8 1460.0,626.6 1462.9,627.3 1465.8,628.1 1468.7,628.8 1471.6,629.6 1474.5,630.4 1477.4,631.1 1480.3,631.9 1483.2,632.7 1486.1,633.5 1489.0,634.3 1491.9,635.0 1494.8,635.8 1497.6,636.6 1500.5,637.4 1503.4,638.2 1506.3,639.0 1509.2,639.9 1512.1,640.7 1515.0,641.6 1517.8,642.4 1520.7,643.3 1523.6,644.2 1526.4,645.1 1529.3,646.0 1532.1,647.0 1534.9,647.9 1537.8,648.9 1540.6,649.9 1543.4,651.0 1546.2,652.0 1549.0,653.1 1551.7,654.2 1554.5,655.3 1557.2,656.5 1560.0,657.7 1562.7,658.9 1565.5,660.1 1568.2,661.2 1570.9,662.4 1573.7,663.6 1576.4,664.8 1579.2,666.0 1581.9,667.1 1584.7,668.2 1587.4,669.3 1590.2,670.4 1593.0,671.5 1595.7,672.6 1598.5,673.7 1601.2,674.8 1604.0,675.9 1606.7,677.1 1609.3,678.4 1612.0,679.6 1614.6,681.0 1617.1,682.5 1619.6,684.0 1622.1,685.6 1624.6,687.2 1627.0,688.9 1629.4,690.6 1631.8,692.4 1634.2,694.1 1636.7,695.8 1639.1,697.4 1641.6,699.0 1644.1,700.6 1646.6,702.2 1649.1,703.7 1651.6,705.2 1654.2,706.7 1656.7,708.2 1659.2,709.7 1661.8,711.2 1664.3,712.7 1666.9,714.2 1669.5,715.8 1672.0,717.3 1674.6,718.8 1677.2,720.3 1679.7,721.9 1682.3,723.4 1684.9,725.0 1687.4,726.5 1690.0,728.1 1692.5,729.7 1695.1,731.3 1697.6,732.9 1700.2,734.5 1702.7,736.1 1705.3,737.8 1707.8,739.4 1710.3,741.1 1712.8,742.8 1715.3,744.5 1717.8,746.2 1720.2,747.9 1722.7,749.7 1725.1,751.4 1727.5,753.2 1729.9,755.0 1732.3,756.8 1734.7,758.6 1737.0,760.5 1739.3,762.3 1741.6,764.2 1743.9,766.1 1746.2,768.0 1748.4,770.0 1750.7,771.9 1752.9,773.9 1755.1,775.9 1757.3,777.9 1759.5,779.9 1761.7,781.9 1763.9,783.9 1766.0,786.0 1768.2,788.0 1770.3,790.1 1772.5,792.1 1774.6,794.2 1776.8,796.3 1778.9,798.4 1781.1,800.5 1783.2,802.6 1785.4,804.6 1787.6,806.7 1789.7,808.9 1791.9,811.0 1794.0,813.1 1796.2,815.2 1798.3,817.4 1800.4,819.5 1802.5,821.7 1804.6,823.9 1806.7,826.1 1808.7,828.3 1810.7,830.5 1812.7,832.7 1814.7,835.0 1816.7,837.3 1818.6,839.6 1820.5,841.9 1822.3,844.3 1824.1,846.6 1825.9,849.0 1827.6,851.4 1829.3,853.9 1831.0,856.4 1832.6,858.9 1834.2,861.4 1835.7,864.0 1837.1,866.6 1838.6,869.2 1840.0,871.8 1841.4,874.5 1842.8,877.1 1844.2,879.7 1845.6,882.4 1847.0,885.0 1848.4,887.6 1849.8,890.2 1851.3,892.8 1852.9,895.4 1854.4,898.0 1856.0,900.5 1857.6,903.0 1859.2,905.5 1860.8,908.0 1862.5,910.6 1864.1,913.1 1865.8,915.6 1867.4,918.1 1869.1,920.6 1870.7,923.1 1872.3,925.6 1874.0,928.1 1875.6,930.7 1877.2,933.2 1878.7,935.7 1880.3,938.3 1881.8,940.9 1883.4,943.4 1884.9,946.0 1886.4,948.6 1887.9,951.2 1889.3,953.8 1890.8,956.4 1892.2,959.1 1893.6,961.7 1895.0,964.3 1896.4,967.0 1897.7,969.7 1899.0,972.3 1900.3,975.0 1901.6,977.7 1902.8,980.4 1904.0,983.2 1905.2,985.9 1906.3,988.7 1907.4,991.4 1908.5,994.2 1909.6,997.0 1910.6,999.8 1911.6,1002.6 1912.6,1005.4 1913.6,1008.2 1914.5,1011.1 1915.4,1013.9 1916.3,1016.8 1917.2,1019.6 1918.0,1022.5 1918.9,1025.4 1919.7,1028.3 1920.5,1031.1 1921.3,1034.0 1922.1,1036.9 1922.8,1039.8 1923.6,1042.7 1924.3,1045.6 1925.1,1048.6 1925.8,1051.5 1926.5,1054.4 1927.2,1057.3 1927.9,1060.2 1928.6,1063.1 1929.3,1066.0 1930.0,1069.0 1930.7,1071.9 1931.4,1074.8 1932.1,1077.7 1932.7,1080.7 1933.4,1083.6 1934.1,1086.5 1934.7,1089.4 1935.4,1092.4 1936.0,1095.3 1936.6,1098.2 1937.3,1101.1 1937.9,1104.1 1938.5,1107.0 1939.1,1109.9 1939.7,1112.9 1940.3,1115.8 1940.9,1118.8 1941.5,1121.7 1942.1,1124.6 1942.7,1127.6 1943.2,1130.5 1943.8,1133.5 1944.4,1136.4 1944.9,1139.3 1945.5,1142.3 1946.0,1145.2 1946.6,1148.2 1947.1,1151.1 1947.7,1154.1 1948.2,1157.0 1948.7,1160.0 1949.2,1162.9 1949.7,1165.9 1950.3,1168.8 1950.8,1171.8 1951.3,1174.7 1951.8,1177.7 1952.3,1180.6 1952.7,1183.6 1953.2,1186.6 1953.7,1189.5 1954.2,1192.5 1954.7,1195.4 1955.1,1198.4 1955.6,1201.3 1956.0,1204.3 1956.5,1207.3 1956.9,1210.2 1957.4,1213.2 1957.8,1216.2 1958.3,1219.1 1958.7,1222.1 1959.1,1225.1 1959.5,1228.0 1960.0,1231.0 1960.4,1234.0 1960.8,1236.9 1961.2,1239.9 1961.6,1242.9 1962.0,1245.8 1962.4,1248.8 1962.8,1251.8 1963.2,1254.7 1963.6,1257.7 1964.0,1260.7 1964.3,1263.7 1964.7,1266.6 1965.1,1269.6 1965.5,1272.6 1965.8,1275.6 1966.2,1278.5 1966.6,1281.5 1966.9,1284.5 1967.3,1287.5 1967.6,1290.4 1968.0,1293.4 1968.3,1296.4 1968.7,1299.4 1969.0,1302.3 1969.3,1305.3 1969.7,1308.3 1970.0,1311.3 1970.3,1314.3 1970.6,1317.2 1971.0,1320.2 1971.3,1323.2 1971.6,1326.2 1971.9,1329.2 1972.2,1332.2 1972.5,1335.1 1972.8,1338.1 1973.1,1341.1 1973.4,1344.1 1973.7,1347.1 1974.0,1350.0 1974.3,1353.0 1974.6,1356.0 1974.9,1359.0 1975.2,1362.0 1975.5,1365.0 1975.7,1367.9 1976.0,1370.9 1976.3,1373.9 1976.6,1376.9 1976.8,1379.9 1977.1,1382.9 1977.4,1385.9 1977.6,1388.8 1977.9,1391.8 1978.2,1394.8 1978.4,1397.8 1978.7,1400.8 1978.9,1403.8 1979.2,1406.8 1979.4,1409.7 1979.7,1412.7 1979.9,1415.7 1980.2,1418.7 1980.4,1421.7 1980.6,1424.7 1980.9,1427.7 1981.1,1430.7 1981.3,1433.6 1981.6,1436.6 1981.8,1439.6 1982.0,1442.6 1982.2,1445.6 1982.5,1448.6 1982.7,1451.6 1982.9,1454.6 1983.1,1457.6 1983.3,1460.5 1983.5,1463.5 1983.7,1466.5 1983.9,1469.5 1984.1,1472.5 1984.3,1475.5 1984.5,1478.5 1984.7,1481.5 1984.9,1484.5 1985.1,1487.4 1985.3,1490.4 1985.5,1493.4 1985.7,1496.4 1985.9,1499.4 1986.0,1502.4 1986.2,1505.4 1986.4,1508.4 1986.6,1511.4 1986.8,1514.4 1986.9,1517.4 1987.1,1520.4 1987.3,1523.3 1987.4,1526.3 1987.6,1529.3 1987.7,1532.3 1987.9,1535.3 1988.1,1538.3 1988.2,1541.3 1988.4,1544.3 1988.5,1547.3 1988.7,1550.3 1988.8,1553.3 1988.9,1556.3 1989.1,1559.3 1989.2,1562.2 1989.4,1565.2 1989.5,1568.2 1989.6,1571.2 1989.8,1574.2 1989.9,1577.2 1990.0,1580.2 1990.1,1583.2 1990.3,1586.2 1990.4,1589.2 1990.5,1592.2 1990.6,1595.2 1990.7,1598.2 1990.8,1601.2 1991.0,1604.2 1991.1,1607.2 1991.2,1610.2 1991.3,1613.2 1991.4,1616.1 1991.5,1619.1 1991.6,1622.1 1991.7,1625.1 1991.8,1628.1 1991.9,1631.1 1991.9,1634.1 1992.0,1637.1 1992.1,1640.1 1992.2,1643.1 1992.3,1646.1 1992.4,1649.1 1992.4,1652.1 1992.5,1655.1 1992.6,1658.1 1992.7,1661.1 1992.7,1664.1 1992.8,1667.1 1992.9,1670.1 1992.9,1673.1 1993.0,1676.1 1993.1,1679.1 1993.1,1682.1 1993.2,1685.1 1993.2,1688.1 1993.3,1691.1 1993.3,1694.0 1993.4,1697.0 1993.4,1700.0 1993.5,1703.0 1993.5,1706.0 1993.6,1709.0 1993.6,1712.0 1993.6,1715.0 1993.7,1718.0 1993.7,1721.0 1993.8,1724.0 1993.8,1727.0 1993.8,1730.0 1993.8,1733.0 1993.9,1736.0 1993.9,1739.0 1993.9,1742.0 1993.9,1745.0 1993.9,1748.0 1994.0,1751.0 1994.0,1754.0 1994.0,1757.0 1994.0,1760.0"/>
</g>
<g fill="none" stroke="#ff0000" stroke-width="3.2">
<circle cx="331.2" cy="851.7" r="15.5"/><circle cx="378.8" cy="685.5" r="15.5"/><circle cx="426.5" cy="589.1" r="15.5"/><circle cx="474.2" cy="522.0" r="15.5"/><circle cx="521.8" cy="471.3" r="15.5"/><circle cx="569.5" cy="430.5" r="15.5"/><circle cx="617.2" cy="397.8" r="15.5"/><circle cx="664.8" cy="370.6" r="15.5"/><circle cx="712.5" cy="347.1" r="15.5"/><circle cx="760.2" cy="327.9" r="15.5"/><circle cx="807.8" cy="311.9" r="15.5"/><circle cx="855.5" cy="298.6" r="15.5"/><circle cx="903.2" cy="288.0" r="15.5"/><circle cx="950.8" cy="278.9" r="15.5"/><circle cx="998.5" cy="272.8" r="15.5"/><circle cx="1046.2" cy="268.0" r="15.5"/><circle cx="1093.8" cy="264.8" r="15.5"/><circle cx="1141.5" cy="264.5" r="15.5"/><circle cx="1189.2" cy="264.9" r="15.5"/><circle cx="1236.8" cy="268.0" r="15.5"/><circle cx="1284.5" cy="272.5" r="15.5"/><circle cx="1332.2" cy="279.2" r="15.5"/><circle cx="1379.8" cy="288.0" r="15.5"/><circle cx="1427.5" cy="299.1" r="15.5"/><circle cx="1475.2" cy="312.7" r="15.5"/><circle cx="1522.8" cy="328.7" r="15.5"/><circle cx="1570.5" cy="347.9" r="15.5"/><circle cx="1618.2" cy="370.8" r="15.5"/><circle cx="1665.8" cy="398.0" r="15.5"/><circle cx="1713.5" cy="431.1" r="15.5"/><circle cx="1761.2" cy="470.9" r="15.5"/><circle cx="1808.8" cy="522.5" r="15.5"/><circle cx="1856.5" cy="588.9" r="15.5"/><circle cx="1904.2" cy="684.6" r="15.5"/><circle cx="1951.8" cy="848.9" r="15.5"/>
</g>
<g fill="none" stroke="#ffaa5c" stroke-width="3.2" stroke-linejoin="miter">
<path d="M331.2 937.0L346.7 957.3L331.2 977.6L315.7 957.3Z"/><path d="M378.8 770.9L394.3 791.2L378.8 811.5L363.3 791.2Z"/><path d="M426.5 674.7L442.0 695.0L426.5 715.3L411.0 695.0Z"/><path d="M474.2 607.5L489.7 627.8L474.2 648.1L458.7 627.8Z"/><path d="M521.8 556.3L537.3 576.6L521.8 596.9L506.3 576.6Z"/><path d="M569.5 516.1L585.0 536.4L569.5 556.7L554.0 536.4Z"/><path d="M617.2 482.7L632.7 503.0L617.2 523.3L601.7 503.0Z"/><path d="M664.8 455.0L680.3 475.3L664.8 495.6L649.3 475.3Z"/><path d="M712.5 432.1L728.0 452.4L712.5 472.7L697.0 452.4Z"/><path d="M760.2 413.0L775.7 433.3L760.2 453.6L744.7 433.3Z"/><path d="M807.8 396.9L823.3 417.2L807.8 437.5L792.3 417.2Z"/><path d="M855.5 383.1L871.0 403.4L855.5 423.7L840.0 403.4Z"/><path d="M903.2 372.1L918.7 392.4L903.2 412.7L887.7 392.4Z"/><path d="M950.8 363.6L966.3 383.9L950.8 404.2L935.3 383.9Z"/><path d="M998.5 357.7L1014.0 378.0L998.5 398.3L983.0 378.0Z"/><path d="M1046.2 352.9L1061.7 373.2L1046.2 393.5L1030.7 373.2Z"/><path d="M1093.8 349.7L1109.3 370.0L1093.8 390.3L1078.3 370.0Z"/><path d="M1141.5 349.5L1157.0 369.8L1141.5 390.1L1126.0 369.8Z"/><path d="M1189.2 350.0L1204.7 370.3L1189.2 390.6L1173.7 370.3Z"/><path d="M1236.8 352.9L1252.3 373.2L1236.8 393.5L1221.3 373.2Z"/><path d="M1284.5 357.7L1300.0 378.0L1284.5 398.3L1269.0 378.0Z"/><path d="M1332.2 364.9L1347.7 385.2L1332.2 405.5L1316.7 385.2Z"/><path d="M1379.8 373.7L1395.3 394.0L1379.8 414.3L1364.3 394.0Z"/><path d="M1427.5 384.1L1443.0 404.4L1427.5 424.7L1412.0 404.4Z"/><path d="M1475.2 397.7L1490.7 418.0L1475.2 438.3L1459.7 418.0Z"/><path d="M1522.8 414.2L1538.3 434.5L1522.8 454.8L1507.3 434.5Z"/><path d="M1570.5 432.4L1586.0 452.7L1570.5 473.0L1555.0 452.7Z"/><path d="M1618.2 456.4L1633.7 476.7L1618.2 497.0L1602.7 476.7Z"/><path d="M1665.8 483.0L1681.3 503.3L1665.8 523.6L1650.3 503.3Z"/><path d="M1713.5 516.8L1729.0 537.1L1713.5 557.4L1698.0 537.1Z"/><path d="M1761.2 556.2L1776.7 576.5L1761.2 596.8L1745.7 576.5Z"/><path d="M1808.8 606.9L1824.3 627.2L1808.8 647.5L1793.3 627.2Z"/><path d="M1856.5 674.7L1872.0 695.0L1856.5 715.3L1841.0 695.0Z"/><path d="M1904.2 769.1L1919.7 789.4L1904.2 809.7L1888.7 789.4Z"/><path d="M1951.8 933.1L1967.3 953.4L1951.8 973.7L1936.3 953.4Z"/>
</g>
<g fill="none" stroke="#007f00" stroke-width="3.2" stroke-linejoin="miter">
<rect x="319.0" y="1048.4" width="24.4" height="24.4"/><rect x="366.6" y="882.6" width="24.4" height="24.4"/><rect x="414.3" y="786.5" width="24.4" height="24.4"/><rect x="462.0" y="719.3" width="24.4" height="24.4"/><rect x="509.6" y="667.6" width="24.4" height="24.4"/><rect x="557.3" y="627.0" width="24.4" height="24.4"/><rect x="605.0" y="594.3" width="24.4" height="24.4"/><rect x="652.6" y="566.8" width="24.4" height="24.4"/><rect x="700.3" y="544.1" width="24.4" height="24.4"/><rect x="748.0" y="524.4" width="24.4" height="24.4"/><rect x="795.6" y="508.4" width="24.4" height="24.4"/><rect x="843.3" y="495.6" width="24.4" height="24.4"/><rect x="891.0" y="484.4" width="24.4" height="24.4"/><rect x="938.6" y="476.4" width="24.4" height="24.4"/><rect x="986.3" y="469.5" width="24.4" height="24.4"/><rect x="1034.0" y="465.5" width="24.4" height="24.4"/><rect x="1081.6" y="462.3" width="24.4" height="24.4"/><rect x="1129.3" y="461.5" width="24.4" height="24.4"/><rect x="1177.0" y="462.3" width="24.4" height="24.4"/><rect x="1224.6" y="465.5" width="24.4" height="24.4"/><rect x="1272.3" y="470.3" width="24.4" height="24.4"/><rect x="1320.0" y="477.5" width="24.4" height="24.4"/><rect x="1367.6" y="485.5" width="24.4" height="24.4"/><rect x="1415.3" y="496.4" width="24.4" height="24.4"/><rect x="1463.0" y="509.5" width="24.4" height="24.4"/><rect x="1510.6" y="525.5" width="24.4" height="24.4"/><rect x="1558.3" y="545.5" width="24.4" height="24.4"/><rect x="1606.0" y="568.5" width="24.4" height="24.4"/><rect x="1653.6" y="595.5" width="24.4" height="24.4"/><rect x="1701.3" y="628.7" width="24.4" height="24.4"/><rect x="1749.0" y="668.5" width="24.4" height="24.4"/><rect x="1796.6" y="719.3" width="24.4" height="24.4"/><rect x="1844.3" y="785.3" width="24.4" height="24.4"/><rect x="1892.0" y="880.6" width="24.4" height="24.4"/><rect x="1939.6" y="1042.3" width="24.4" height="24.4"/>
</g>
<g fill="none" stroke="#0000ff" stroke-width="3.2" stroke-linejoin="miter">
<path d="M331.2 1152.4L348.7 1182.7L313.7 1182.7Z"/><path d="M378.8 984.6L396.3 1014.9L361.3 1014.9Z"/><path d="M426.5 890.0L444.0 920.3L409.0 920.3Z"/><path d="M474.2 822.7L491.7 853.0L456.7 853.0Z"/><path d="M521.8 773.8L539.3 804.1L504.3 804.1Z"/><path d="M569.5 731.0L587.0 761.3L552.0 761.3Z"/><path d="M617.2 699.0L634.7 729.3L599.7 729.3Z"/><path d="M664.8 673.1L682.3 703.4L647.3 703.4Z"/><path d="M712.5 649.8L730.0 680.1L695.0 680.1Z"/><path d="M760.2 631.0L777.7 661.3L742.7 661.3Z"/><path d="M807.8 615.0L825.3 645.3L790.3 645.3Z"/><path d="M855.5 602.4L873.0 632.7L838.0 632.7Z"/><path d="M903.2 592.1L920.7 622.4L885.7 622.4Z"/><path d="M950.8 583.2L968.3 613.5L933.3 613.5Z"/><path d="M998.5 576.0L1016.0 606.3L981.0 606.3Z"/><path d="M1046.2 570.9L1063.7 601.2L1028.7 601.2Z"/><path d="M1093.8 570.1L1111.3 600.4L1076.3 600.4Z"/><path d="M1141.5 570.1L1159.0 600.4L1124.0 600.4Z"/><path d="M1189.2 570.1L1206.7 600.4L1171.7 600.4Z"/><path d="M1236.8 571.7L1254.3 602.0L1219.3 602.0Z"/><path d="M1284.5 577.1L1302.0 607.4L1267.0 607.4Z"/><path d="M1332.2 584.9L1349.7 615.2L1314.7 615.2Z"/><path d="M1379.8 593.4L1397.3 623.7L1362.3 623.7Z"/><path d="M1427.5 603.1L1445.0 633.4L1410.0 633.4Z"/><path d="M1475.2 615.0L1492.7 645.3L1457.7 645.3Z"/><path d="M1522.8 629.8L1540.3 660.1L1505.3 660.1Z"/><path d="M1570.5 651.3L1588.0 681.6L1553.0 681.6Z"/><path d="M1618.2 675.0L1635.7 705.3L1600.7 705.3Z"/><path d="M1665.8 701.8L1683.3 732.1L1648.3 732.1Z"/><path d="M1713.5 735.8L1731.0 766.1L1696.0 766.1Z"/><path d="M1761.2 773.8L1778.7 804.1L1743.7 804.1Z"/><path d="M1808.8 822.8L1826.3 853.1L1791.3 853.1Z"/><path d="M1856.5 889.8L1874.0 920.1L1839.0 920.1Z"/><path d="M1904.2 984.2L1921.7 1014.5L1886.7 1014.5Z"/><path d="M1951.8 1145.7L1969.3 1176.0L1934.3 1176.0Z"/>
</g>
</g>
<rect x="283.5" y="45.5" width="1716.0" height="1664.0" fill="none" stroke="#000" stroke-width="3" shape-rendering="crispEdges"/>
<text class="tk" x="266.5" y="1739.3" text-anchor="end">60</text>
<text class="tk" x="266.5" y="1462.0" text-anchor="end">70</text>
<text class="tk" x="266.5" y="1184.6" text-anchor="end">80</text>
<text class="tk" x="266.5" y="907.3" text-anchor="end">90</text>
<text class="tk" x="266.5" y="630.0" text-anchor="end">100</text>
<text class="tk" x="266.5" y="352.6" text-anchor="end">110</text>
<text class="tk" x="266.5" y="75.3" text-anchor="end">120</text>
<text class="tk" x="283.5" y="1800" text-anchor="middle">0</text>
<text class="tk" x="760.2" y="1800" text-anchor="middle">50</text>
<text class="tk" x="1236.8" y="1800" text-anchor="middle">100</text>
<text class="tk" x="1713.5" y="1800" text-anchor="middle">150</text>
<text class="tx" y="1883.5"><tspan x="677.9" textLength="423.4" lengthAdjust="spacingAndGlyphs">Observation</tspan><tspan x="1131.2" textLength="207.5" lengthAdjust="spacingAndGlyphs">Angle</tspan><tspan class="it" x="1363.1" font-size="78" textLength="39.7" lengthAdjust="spacingAndGlyphs">θ</tspan><tspan x="1437.0" dy="6.5" font-size="96.7" textLength="17.0" lengthAdjust="spacingAndGlyphs">[</tspan><tspan x="1455.0" dy="-6.5" textLength="122.0" lengthAdjust="spacingAndGlyphs">deg</tspan><tspan x="1576.0" dy="6.5" font-size="96.7" textLength="17.0" lengthAdjust="spacingAndGlyphs">]</tspan></text>
<text class="tx" transform="translate(84.6 1395.8) rotate(-90)" y="0"><tspan x="-2.8" textLength="383.9" lengthAdjust="spacingAndGlyphs">Magnitude</tspan><tspan x="404.4" textLength="71" lengthAdjust="spacingAndGlyphs">of</tspan><tspan class="it" x="502" textLength="69.2" lengthAdjust="spacingAndGlyphs">H</tspan><tspan class="it" x="564.9" dy="12.8" font-size="57" textLength="26.7" lengthAdjust="spacingAndGlyphs">z</tspan><tspan x="630.3" dy="-5.5" font-size="97.7" textLength="16.5" lengthAdjust="spacingAndGlyphs">[</tspan><tspan class="it" x="647" dy="-7.3" textLength="41.6" lengthAdjust="spacingAndGlyphs">d</tspan><tspan class="it" x="689.7" textLength="62.8" lengthAdjust="spacingAndGlyphs">B</tspan><tspan class="it" x="754" textLength="48" lengthAdjust="spacingAndGlyphs">μ</tspan><tspan class="it" x="811.9" textLength="50.9" lengthAdjust="spacingAndGlyphs">A</tspan><tspan class="it" x="872.5" dy="18" font-size="123" textLength="22.3" lengthAdjust="spacingAndGlyphs">/</tspan><tspan class="it" x="906.2" dy="-18" textLength="74.1" lengthAdjust="spacingAndGlyphs">m</tspan><tspan x="975.7" dy="7.3" font-size="97.7" textLength="16.3" lengthAdjust="spacingAndGlyphs">]</tspan></text>
<rect x="912.0" y="775.5" width="758.5" height="896.5" fill="#fff" stroke="#000" stroke-width="3" shape-rendering="crispEdges"/>
<g shape-rendering="crispEdges" fill="none" stroke="#ff0000" stroke-width="3.2"><circle cx="1035.9" cy="840.0" r="15.5"/></g>
<text class="tx" y="860.9"><tspan x="1141.5" textLength="154.9" lengthAdjust="spacingAndGlyphs">SIE,</tspan><tspan class="it" x="1294.7" textLength="36.3" lengthAdjust="spacingAndGlyphs">r</tspan><tspan x="1354.4" textLength="64.7" lengthAdjust="spacingAndGlyphs">=</tspan><tspan x="1415.2" textLength="106.4" lengthAdjust="spacingAndGlyphs">0.5</tspan></text>
<line shape-rendering="crispEdges" x1="946.7" y1="949.4" x2="1125.1" y2="949.4" stroke="#0000ff" stroke-width="4.0"/>
<text class="tx" y="970.3"><tspan x="1143.9" textLength="184.5" lengthAdjust="spacingAndGlyphs">CST,</tspan><tspan class="it" x="1325.5" textLength="36.2" lengthAdjust="spacingAndGlyphs">r</tspan><tspan x="1385.1" textLength="65.2" lengthAdjust="spacingAndGlyphs">=</tspan><tspan x="1446.0" textLength="106.3" lengthAdjust="spacingAndGlyphs">0.5</tspan></text>
<g shape-rendering="crispEdges" fill="none" stroke="#ffaa5c" stroke-width="3.2"><path d="M1035.9 1038.5L1051.4 1058.8L1035.9 1079.1L1020.4 1058.8Z"/></g>
<text class="tx" y="1079.7"><tspan x="1141.5" textLength="154.9" lengthAdjust="spacingAndGlyphs">SIE,</tspan><tspan class="it" x="1294.7" textLength="36.3" lengthAdjust="spacingAndGlyphs">r</tspan><tspan x="1354.4" textLength="64.7" lengthAdjust="spacingAndGlyphs">=</tspan><tspan x="1415.2" textLength="106.4" lengthAdjust="spacingAndGlyphs">0.6</tspan></text>
<line shape-rendering="crispEdges" x1="946.7" y1="1168.2" x2="1125.1" y2="1168.2" stroke="#00ff00" stroke-width="4.0"/>
<text class="tx" y="1189.1"><tspan x="1143.9" textLength="184.5" lengthAdjust="spacingAndGlyphs">CST,</tspan><tspan class="it" x="1325.5" textLength="36.2" lengthAdjust="spacingAndGlyphs">r</tspan><tspan x="1385.1" textLength="65.2" lengthAdjust="spacingAndGlyphs">=</tspan><tspan x="1446.0" textLength="106.3" lengthAdjust="spacingAndGlyphs">0.6</tspan></text>
<g shape-rendering="crispEdges" fill="none" stroke="#007f00" stroke-width="3.2"><rect x="1023.7" y="1265.4" width="24.4" height="24.4"/></g>
<text class="tx" y="1298.5"><tspan x="1141.5" textLength="154.9" lengthAdjust="spacingAndGlyphs">SIE,</tspan><tspan class="it" x="1294.7" textLength="36.3" lengthAdjust="spacingAndGlyphs">r</tspan><tspan x="1354.4" textLength="64.7" lengthAdjust="spacingAndGlyphs">=</tspan><tspan x="1415.2" textLength="106.4" lengthAdjust="spacingAndGlyphs">0.7</tspan></text>
<line shape-rendering="crispEdges" x1="946.7" y1="1387.0" x2="1125.1" y2="1387.0" stroke="#000" stroke-width="4.0"/>
<text class="tx" y="1407.9"><tspan x="1143.9" textLength="184.5" lengthAdjust="spacingAndGlyphs">CST,</tspan><tspan class="it" x="1325.5" textLength="36.2" lengthAdjust="spacingAndGlyphs">r</tspan><tspan x="1385.1" textLength="65.2" lengthAdjust="spacingAndGlyphs">=</tspan><tspan x="1446.0" textLength="106.3" lengthAdjust="spacingAndGlyphs">0.7</tspan></text>
<g shape-rendering="crispEdges" fill="none" stroke="#0000ff" stroke-width="3.2"><path d="M1035.9 1476.2L1053.4 1506.5L1018.4 1506.5Z"/></g>
<text class="tx" y="1517.3"><tspan x="1141.5" textLength="154.9" lengthAdjust="spacingAndGlyphs">SIE,</tspan><tspan class="it" x="1294.7" textLength="36.3" lengthAdjust="spacingAndGlyphs">r</tspan><tspan x="1354.4" textLength="64.7" lengthAdjust="spacingAndGlyphs">=</tspan><tspan x="1415.2" textLength="106.4" lengthAdjust="spacingAndGlyphs">0.8</tspan></text>
<line shape-rendering="crispEdges" x1="946.7" y1="1605.8" x2="1125.1" y2="1605.8" stroke="#ff0000" stroke-width="4.0"/>
<text class="tx" y="1626.7"><tspan x="1143.9" textLength="184.5" lengthAdjust="spacingAndGlyphs">CST,</tspan><tspan class="it" x="1325.5" textLength="36.2" lengthAdjust="spacingAndGlyphs">r</tspan><tspan x="1385.1" textLength="65.2" lengthAdjust="spacingAndGlyphs">=</tspan><tspan x="1446.0" textLength="106.3" lengthAdjust="spacingAndGlyphs">0.8</tspan></text>
</svg></body></html>
